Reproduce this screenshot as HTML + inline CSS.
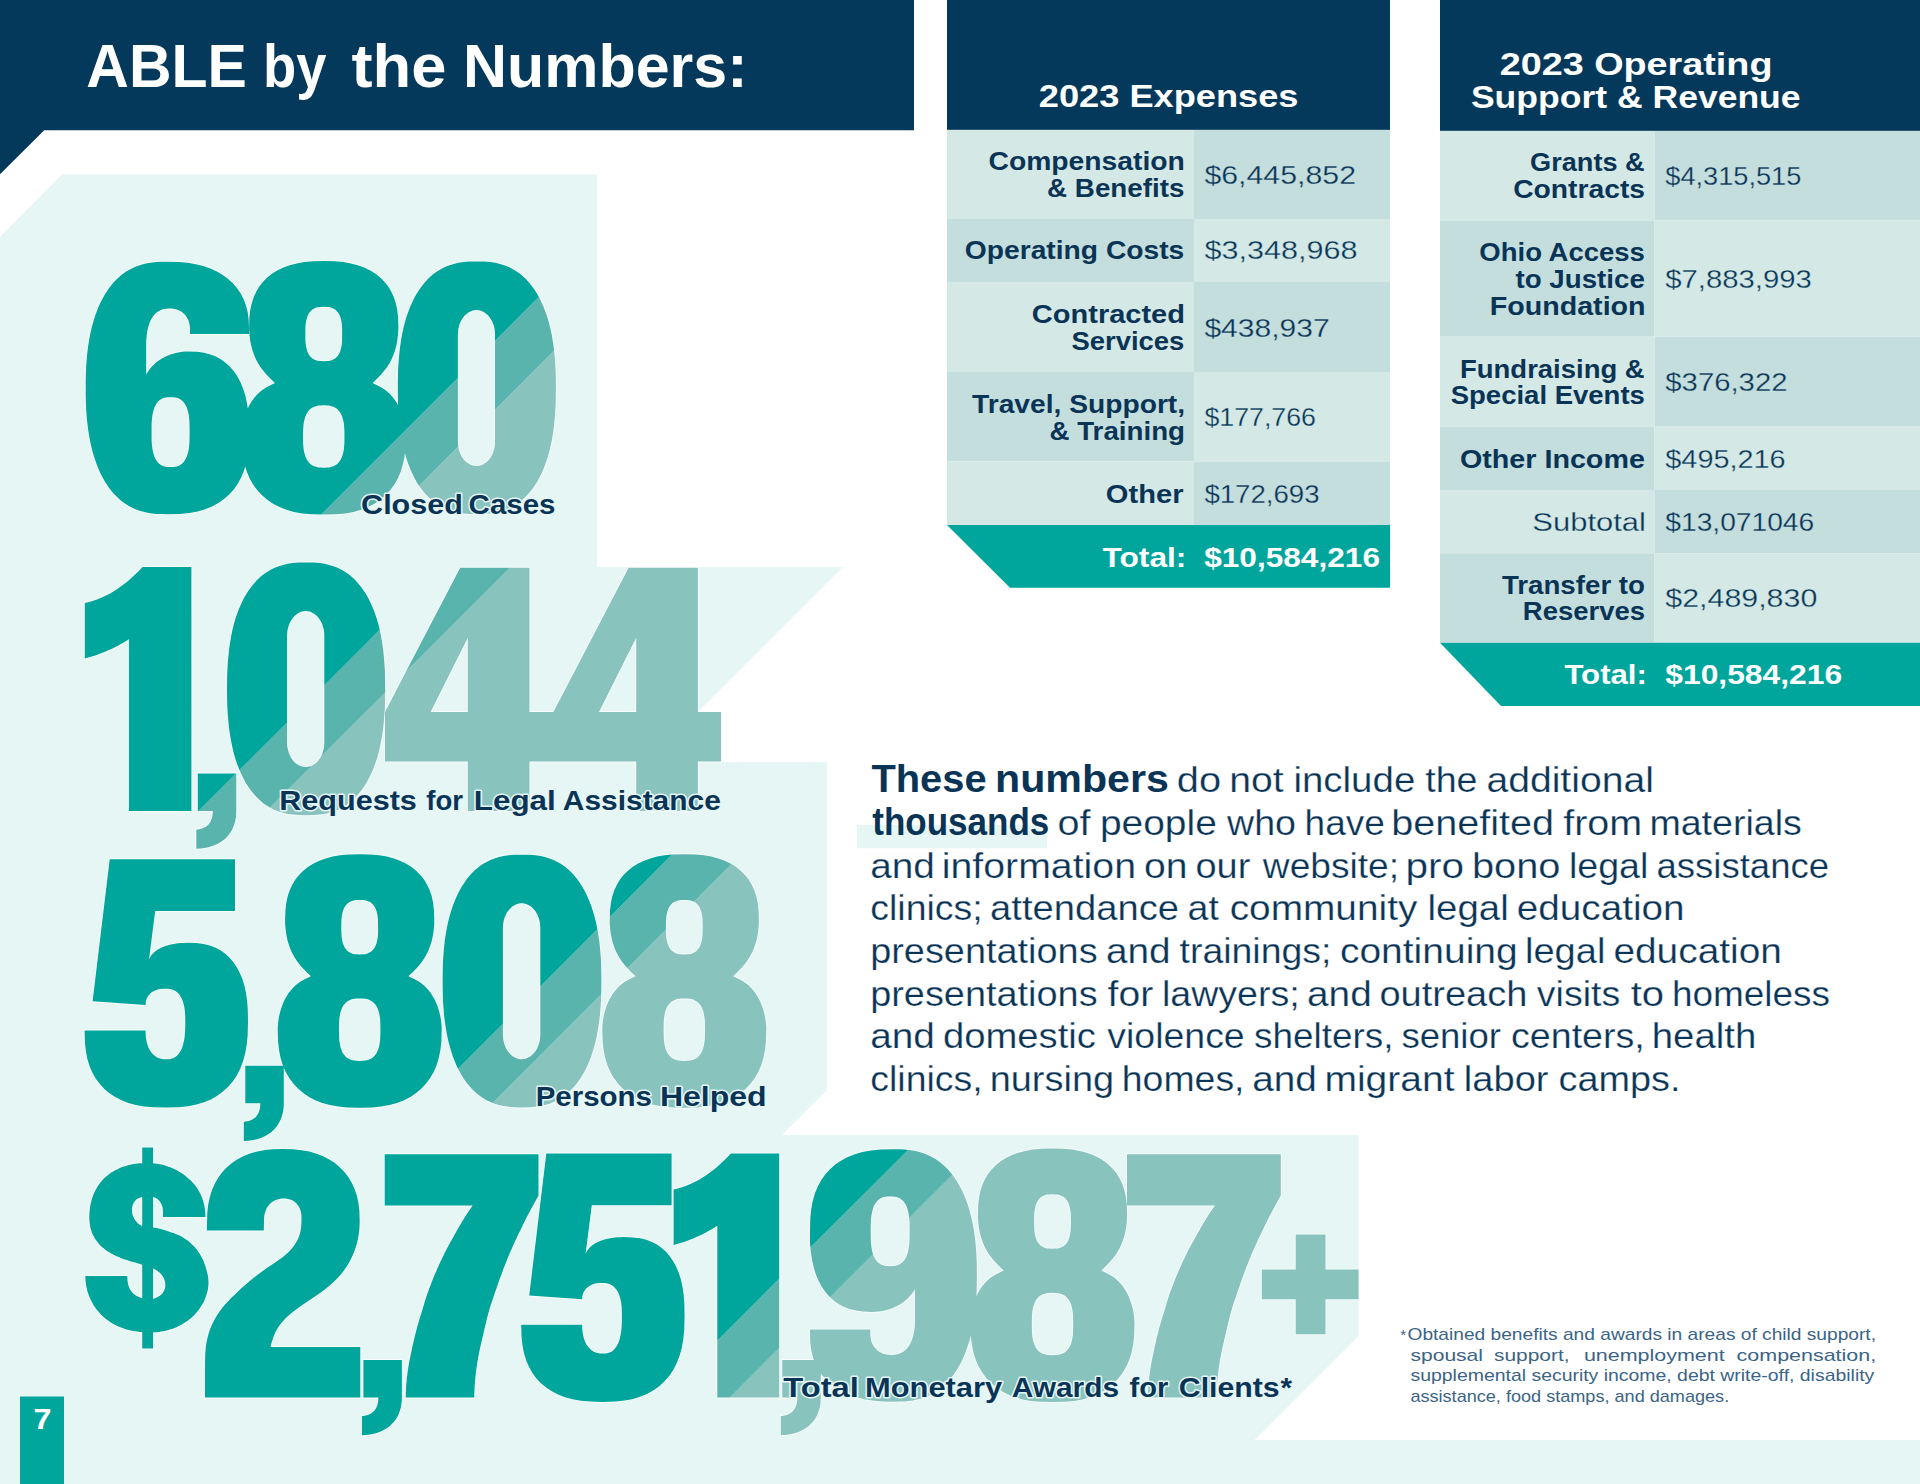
<!DOCTYPE html>
<html lang="en"><head><meta charset="utf-8"><title>ABLE by the Numbers</title>
<style>
html,body{margin:0;padding:0;background:#fff;}
body{width:1920px;height:1484px;overflow:hidden;font-family:"Liberation Sans",sans-serif;}
svg{display:block;font-family:"Liberation Sans",sans-serif;}
.halo{stroke:#E5F6F5;stroke-width:3px;stroke-linejoin:round;paint-order:stroke fill;}
</style></head><body>
<svg width="1920" height="1484" viewBox="0 0 1920 1484">
<defs>
</defs>
<rect width="1920" height="1484" fill="#fff"/>
<path fill="#E5F6F5" d="M62,174.6 L597,174.5 L597,567 L843,567 L698,712 L698,762 L827,762 L827,1090 L782,1135 L1358.5,1135 L1358.5,1336 L1254.5,1440 L1920,1440 L1920,1484 L0,1484 L0,236.9Z"/>
<rect x="857" y="825" width="190" height="23.3" fill="#E5F6F5"/>
<path fill="#04395B" d="M0,0 L914,0 L914,130.2 L44.2,130.2 L0,174.2Z"/>
<text y="86.8" font-size="61" fill="#fff"><tspan x="86.3" font-weight="700" textLength="160.6" lengthAdjust="spacingAndGlyphs">ABLE</tspan> <tspan x="263.1" font-weight="700" textLength="63.4" lengthAdjust="spacingAndGlyphs">by</tspan> <tspan x="351.4" font-weight="700" textLength="95.0" lengthAdjust="spacingAndGlyphs">the</tspan> <tspan x="463.1" font-weight="700" textLength="284.4" lengthAdjust="spacingAndGlyphs">Numbers:</tspan></text>
<rect x="947" y="0" width="443" height="130" fill="#04395B"/>
<rect x="947" y="129.8" width="247" height="89.19999999999999" fill="#D4E8E5"/><rect x="1194" y="129.8" width="196" height="89.19999999999999" fill="#C3DEDD"/>
<rect x="947" y="219" width="247" height="63" fill="#C3DEDD"/><rect x="1194" y="219" width="196" height="63" fill="#D4E8E5"/>
<rect x="947" y="282" width="247" height="90" fill="#D4E8E5"/><rect x="1194" y="282" width="196" height="90" fill="#C3DEDD"/>
<rect x="947" y="372" width="247" height="89.5" fill="#C3DEDD"/><rect x="1194" y="372" width="196" height="89.5" fill="#D4E8E5"/>
<rect x="947" y="461.5" width="247" height="63.5" fill="#D4E8E5"/><rect x="1194" y="461.5" width="196" height="63.5" fill="#C3DEDD"/>
<path fill="#00A69C" d="M947,525 L1390,525 L1390,587.8 L1010,587.8Z"/>
<text x="1038.8" y="107.1" font-size="32" font-weight="700" fill="#fff" textLength="259.7" lengthAdjust="spacingAndGlyphs">2023 Expenses</text>
<text x="988.5" y="170.3" font-size="25" font-weight="700" fill="#0A3456" textLength="196.4" lengthAdjust="spacingAndGlyphs">Compensation</text>
<text x="1047.1" y="197.1" font-size="25" font-weight="700" fill="#0A3456" textLength="137.3" lengthAdjust="spacingAndGlyphs">&amp; Benefits</text>
<text x="1204.4" y="183.7" font-size="26" fill="#0A3456" textLength="151.6" lengthAdjust="spacingAndGlyphs" stroke="#C3DEDD" stroke-width="0.3">$6,445,852</text>
<text x="964.8" y="259.4" font-size="25" font-weight="700" fill="#0A3456" textLength="219.5" lengthAdjust="spacingAndGlyphs">Operating Costs</text>
<text x="1204.4" y="259.4" font-size="26" fill="#0A3456" textLength="153.2" lengthAdjust="spacingAndGlyphs" stroke="#D4E8E5" stroke-width="0.3">$3,348,968</text>
<text x="1031.8" y="322.9" font-size="25" font-weight="700" fill="#0A3456" textLength="153.2" lengthAdjust="spacingAndGlyphs">Contracted</text>
<text x="1071.4" y="349.8" font-size="25" font-weight="700" fill="#0A3456" textLength="112.9" lengthAdjust="spacingAndGlyphs">Services</text>
<text x="1204.4" y="337.3" font-size="26" fill="#0A3456" textLength="125.2" lengthAdjust="spacingAndGlyphs" stroke="#C3DEDD" stroke-width="0.3">$438,937</text>
<text x="972.0" y="412.8" font-size="25" font-weight="700" fill="#0A3456" textLength="213.1" lengthAdjust="spacingAndGlyphs">Travel, Support,</text>
<text x="1049.5" y="439.6" font-size="25" font-weight="700" fill="#0A3456" textLength="135.5" lengthAdjust="spacingAndGlyphs">&amp; Training</text>
<text x="1204.4" y="426.4" font-size="26" fill="#0A3456" textLength="111.6" lengthAdjust="spacingAndGlyphs" stroke="#D4E8E5" stroke-width="0.3">$177,766</text>
<text x="1105.8" y="502.6" font-size="25" font-weight="700" fill="#0A3456" textLength="77.7" lengthAdjust="spacingAndGlyphs">Other</text>
<text x="1204.4" y="502.6" font-size="26" fill="#0A3456" textLength="115.2" lengthAdjust="spacingAndGlyphs" stroke="#C3DEDD" stroke-width="0.3">$172,693</text>
<text x="1102.6" y="567.3" font-size="28.5" font-weight="700" fill="#fff" textLength="83.7" lengthAdjust="spacingAndGlyphs">Total:</text>
<text x="1204.2" y="567.3" font-size="28.5" font-weight="700" fill="#fff" textLength="175.8" lengthAdjust="spacingAndGlyphs">$10,584,216</text>
<rect x="1440" y="0" width="480" height="131" fill="#04395B"/>
<rect x="1440" y="130.8" width="214.5" height="89.69999999999999" fill="#D4E8E5"/><rect x="1654.5" y="130.8" width="265.5" height="89.69999999999999" fill="#C3DEDD"/>
<rect x="1440" y="220.5" width="214.5" height="116.19999999999999" fill="#C3DEDD"/><rect x="1654.5" y="220.5" width="265.5" height="116.19999999999999" fill="#D4E8E5"/>
<rect x="1440" y="336.7" width="214.5" height="90.0" fill="#D4E8E5"/><rect x="1654.5" y="336.7" width="265.5" height="90.0" fill="#C3DEDD"/>
<rect x="1440" y="426.7" width="214.5" height="63.30000000000001" fill="#C3DEDD"/><rect x="1654.5" y="426.7" width="265.5" height="63.30000000000001" fill="#D4E8E5"/>
<rect x="1440" y="490" width="214.5" height="63.299999999999955" fill="#D4E8E5"/><rect x="1654.5" y="490" width="265.5" height="63.299999999999955" fill="#C3DEDD"/>
<rect x="1440" y="553.3" width="214.5" height="89.40000000000009" fill="#C3DEDD"/><rect x="1654.5" y="553.3" width="265.5" height="89.40000000000009" fill="#D4E8E5"/>
<path fill="#00A69C" d="M1440,642.7 L1920,642.7 L1920,706 L1501,706Z"/>
<text x="1499.7" y="74.7" font-size="32" font-weight="700" fill="#fff" textLength="272.8" lengthAdjust="spacingAndGlyphs">2023 Operating</text>
<text x="1470.9" y="108.0" font-size="32" font-weight="700" fill="#fff" textLength="329.7" lengthAdjust="spacingAndGlyphs">Support &amp; Revenue</text>
<text x="1530.1" y="171.4" font-size="25" font-weight="700" fill="#0A3456" textLength="114.6" lengthAdjust="spacingAndGlyphs">Grants &amp;</text>
<text x="1513.2" y="198.4" font-size="25" font-weight="700" fill="#0A3456" textLength="131.8" lengthAdjust="spacingAndGlyphs">Contracts</text>
<text x="1665.3" y="184.9" font-size="26" fill="#0A3456" textLength="136.0" lengthAdjust="spacingAndGlyphs" stroke="#C3DEDD" stroke-width="0.3">$4,315,515</text>
<text x="1479.3" y="260.6" font-size="25" font-weight="700" fill="#0A3456" textLength="165.6" lengthAdjust="spacingAndGlyphs">Ohio Access</text>
<text x="1515.5" y="287.7" font-size="25" font-weight="700" fill="#0A3456" textLength="129.3" lengthAdjust="spacingAndGlyphs">to Justice</text>
<text x="1489.7" y="314.6" font-size="25" font-weight="700" fill="#0A3456" textLength="155.9" lengthAdjust="spacingAndGlyphs">Foundation</text>
<text x="1665.3" y="287.7" font-size="26" fill="#0A3456" textLength="146.5" lengthAdjust="spacingAndGlyphs" stroke="#D4E8E5" stroke-width="0.3">$7,883,993</text>
<text x="1460.0" y="378.0" font-size="25" font-weight="700" fill="#0A3456" textLength="184.7" lengthAdjust="spacingAndGlyphs">Fundraising &amp;</text>
<text x="1450.7" y="404.1" font-size="25" font-weight="700" fill="#0A3456" textLength="194.2" lengthAdjust="spacingAndGlyphs">Special Events</text>
<text x="1665.3" y="391.4" font-size="26" fill="#0A3456" textLength="122.2" lengthAdjust="spacingAndGlyphs" stroke="#C3DEDD" stroke-width="0.3">$376,322</text>
<text x="1459.9" y="467.7" font-size="25" font-weight="700" fill="#0A3456" textLength="185.0" lengthAdjust="spacingAndGlyphs">Other Income</text>
<text x="1665.3" y="467.7" font-size="26" fill="#0A3456" textLength="120.3" lengthAdjust="spacingAndGlyphs" stroke="#D4E8E5" stroke-width="0.3">$495,216</text>
<text x="1532.3" y="530.8" font-size="26" fill="#0A3456" textLength="113.6" lengthAdjust="spacingAndGlyphs" stroke="#D4E8E5" stroke-width="0.3">Subtotal</text>
<text x="1665.3" y="530.8" font-size="26" fill="#0A3456" textLength="148.9" lengthAdjust="spacingAndGlyphs" stroke="#C3DEDD" stroke-width="0.3">$13,071046</text>
<text x="1501.9" y="594.4" font-size="25" font-weight="700" fill="#0A3456" textLength="143.1" lengthAdjust="spacingAndGlyphs">Transfer to</text>
<text x="1522.8" y="619.7" font-size="25" font-weight="700" fill="#0A3456" textLength="122.2" lengthAdjust="spacingAndGlyphs">Reserves</text>
<text x="1665.3" y="607.0" font-size="26" fill="#0A3456" textLength="152.0" lengthAdjust="spacingAndGlyphs" stroke="#D4E8E5" stroke-width="0.3">$2,489,830</text>
<text x="1564.4" y="684.4" font-size="28.5" font-weight="700" fill="#fff" textLength="82.5" lengthAdjust="spacingAndGlyphs">Total:</text>
<text x="1665.3" y="684.4" font-size="28.5" font-weight="700" fill="#fff" textLength="176.8" lengthAdjust="spacingAndGlyphs">$10,584,216</text>
<path fill="none" stroke="#fff" stroke-opacity=".7" stroke-width="1.8" stroke-linejoin="round" d="M555.6,369.4 555.1,361.8 554.5,354.7 553.8,347.9 552.8,341.3 551.8,335.1 550.5,329.1 549.1,323.3 547.5,317.8 545.7,312.5 543.8,307.5 541.7,302.7 539.5,298.1 537.1,293.8 534.5,289.7 531.8,285.9 529.0,282.4 525.9,279.1 522.7,276.1 519.4,273.3 515.9,270.9 512.2,268.7 508.3,266.8 504.2,265.2 499.9,263.9 495.3,262.8 490.3,262.1 484.7,261.6 476.8,261.5 469.0,261.6 463.4,262.1 458.4,262.8 453.8,263.9 449.5,265.2 445.4,266.8 441.5,268.7 437.8,270.9 434.3,273.3 431.0,276.1 427.8,279.1 424.7,282.4 421.9,285.9 419.2,289.7 416.6,293.8 414.2,298.1 412.0,302.7 409.9,307.5 408.0,312.5 406.2,317.8 404.6,323.3 403.2,329.1 401.9,335.1 400.9,341.3 399.9,347.9 399.2,354.7 398.6,361.8 398.1,369.4 397.9,377.6 397.8,387.9 397.9,398.1 398.1,405.3 397.5,404.2 396.7,402.7 395.8,401.3 394.8,399.9 393.8,398.6 392.8,397.3 391.7,396.0 390.6,394.7 389.4,393.5 388.2,392.4 386.9,391.3 385.6,390.3 384.3,389.3 382.9,388.4 381.5,387.5 380.0,386.7 378.6,385.9 377.1,385.2 375.6,384.5 374.1,383.7 372.6,383.0 373.7,381.9 374.9,380.8 376.0,379.7 377.2,378.6 378.3,377.5 379.4,376.3 380.5,375.2 381.6,374.0 382.6,372.8 383.6,371.6 384.6,370.3 385.6,369.0 386.6,367.7 387.5,366.4 388.3,365.1 389.2,363.7 390.0,362.3 390.7,360.9 391.5,359.5 392.1,358.1 392.8,356.6 393.4,355.1 393.9,353.6 394.5,352.1 395.0,350.6 395.4,349.0 395.8,347.5 396.2,345.9 396.6,344.4 396.9,342.8 397.2,341.2 397.4,339.6 397.6,338.0 397.8,336.4 398.0,334.9 398.1,333.3 398.2,331.7 398.3,330.1 398.4,328.5 398.4,326.9 398.1,317.0 397.2,309.5 395.7,302.9 393.7,296.8 391.1,291.3 387.9,286.1 384.2,281.5 380.0,277.3 375.2,273.5 369.9,270.3 364.1,267.5 357.8,265.2 350.9,263.4 343.4,262.1 335.0,261.3 323.8,261.1 312.5,261.3 304.1,262.1 296.6,263.4 289.7,265.2 283.4,267.5 277.6,270.3 272.3,273.5 267.5,277.3 263.3,281.5 259.6,286.1 256.4,291.3 253.8,296.8 251.8,302.9 250.3,309.5 249.4,317.0 249.1,326.9 249.1,328.5 249.2,330.1 249.3,331.7 249.4,333.3 249.5,334.9 249.7,336.4 249.9,338.0 250.1,339.6 250.3,341.2 250.6,342.8 250.9,344.4 251.3,345.9 251.7,347.5 252.1,349.0 252.5,350.6 253.0,352.1 253.6,353.6 254.1,355.1 254.7,356.6 255.4,358.1 256.0,359.5 256.8,360.9 257.5,362.3 258.3,363.7 259.2,365.1 260.0,366.4 260.9,367.7 261.9,369.0 262.9,370.3 263.9,371.6 264.9,372.8 265.9,374.0 267.0,375.2 268.1,376.3 269.2,377.5 270.3,378.6 271.5,379.7 272.6,380.8 273.8,381.9 274.9,383.0 273.4,383.7 271.9,384.5 270.4,385.2 268.9,385.9 267.5,386.7 266.0,387.5 264.6,388.4 263.2,389.3 261.9,390.3 260.6,391.3 259.3,392.4 258.1,393.5 256.9,394.7 255.8,396.0 254.7,397.3 253.7,398.6 252.7,399.9 251.7,401.3 250.8,402.7 250.0,404.2 249.2,405.6 248.4,407.1 247.8,408.5 247.0,403.3 245.4,395.8 243.2,388.9 240.7,382.6 237.6,376.8 234.1,371.6 230.2,366.9 225.9,362.9 221.2,359.4 216.0,356.6 210.3,354.4 204.2,352.8 197.3,351.8 188.1,351.5 185.2,351.6 182.4,351.8 179.5,352.2 176.8,352.7 174.0,353.4 171.3,354.2 168.6,355.2 166.1,356.3 163.6,357.6 161.1,358.9 158.8,360.5 156.6,362.1 154.5,363.9 152.6,365.7 150.8,367.8 149.1,369.9 147.6,372.1 146.2,374.5 146.2,346.0 146.3,340.6 146.6,336.4 147.1,332.6 147.7,329.2 148.5,326.0 149.5,323.0 150.7,320.3 152.0,317.9 153.5,315.7 155.2,313.8 157.0,312.2 159.0,310.9 161.1,309.9 163.5,309.1 166.1,308.7 169.4,308.5 171.9,308.6 174.1,308.9 176.1,309.3 178.0,310.0 179.8,310.8 181.5,311.8 183.0,313.0 184.4,314.3 185.7,315.8 186.8,317.4 187.8,319.1 188.6,321.0 189.2,323.0 189.6,325.1 189.9,327.4 190.0,330.0 190.0,334.0 249.0,334.0 249.0,329.0 249.0,328.0 249.0,328.0 248.7,319.7 247.7,312.3 246.0,305.5 243.7,299.3 240.7,293.5 237.1,288.2 232.9,283.3 228.1,278.9 222.8,274.9 216.9,271.5 210.4,268.5 203.4,266.1 195.8,264.2 187.7,262.8 178.7,262.0 167.4,261.7 167.4,261.7 167.4,261.7 167.3,261.7 167.3,261.7 167.3,261.7 160.9,261.8 156.3,262.0 152.1,262.4 148.3,263.0 144.7,263.8 141.3,264.7 138.0,265.7 134.8,267.0 131.8,268.4 128.9,269.9 126.1,271.6 123.4,273.5 120.8,275.5 118.3,277.7 115.9,280.1 113.5,282.5 111.3,285.2 109.1,288.0 107.1,290.9 105.1,293.9 103.3,297.2 101.5,300.5 99.8,304.0 98.2,307.6 96.7,311.4 95.3,315.3 94.0,319.3 92.8,323.5 91.6,327.8 90.6,332.2 89.7,336.8 88.9,341.5 88.1,346.3 87.5,351.3 86.9,356.5 86.5,361.9 86.1,367.5 85.9,373.5 85.7,379.9 85.7,388.0 85.7,396.0 85.9,402.4 86.1,408.4 86.5,414.0 86.9,419.4 87.5,424.6 88.1,429.6 88.9,434.4 89.7,439.1 90.6,443.7 91.6,448.1 92.8,452.4 94.0,456.6 95.3,460.6 96.7,464.5 98.2,468.3 99.8,471.9 101.5,475.4 103.3,478.7 105.1,482.0 107.1,485.0 109.1,487.9 111.3,490.7 113.5,493.4 115.9,495.8 118.3,498.2 120.8,500.4 123.4,502.4 126.1,504.3 128.9,506.0 131.8,507.5 134.8,508.9 138.0,510.2 141.3,511.2 144.7,512.1 148.3,512.9 152.1,513.5 156.3,513.9 160.9,514.1 167.4,514.2 167.4,514.2 167.4,514.2 167.4,514.2 167.4,514.2 167.4,514.2 180.1,513.9 189.4,512.9 197.7,511.4 205.2,509.2 212.1,506.4 218.4,503.0 224.1,499.1 229.2,494.5 233.8,489.4 237.8,483.7 241.2,477.4 244.0,470.6 245.2,466.5 246.9,472.0 249.8,478.7 253.2,484.8 257.3,490.3 262.0,495.3 267.2,499.8 273.0,503.7 279.4,507.0 286.3,509.7 293.9,511.9 302.2,513.4 311.4,514.3 323.8,514.6 336.1,514.3 345.3,513.4 353.6,511.9 361.2,509.7 368.1,507.0 374.5,503.7 380.3,499.8 385.5,495.3 390.2,490.3 394.3,484.8 397.7,478.7 400.6,472.0 402.8,464.8 404.5,456.9 404.9,453.1 406.2,457.9 408.0,463.2 409.9,468.2 412.0,473.0 414.2,477.6 416.6,481.9 419.2,486.0 421.9,489.8 424.7,493.3 427.8,496.6 431.0,499.6 434.3,502.4 437.8,504.8 441.5,507.0 445.4,508.9 449.5,510.5 453.8,511.8 458.4,512.9 463.4,513.6 469.0,514.1 476.9,514.2 484.7,514.1 490.3,513.6 495.3,512.9 499.9,511.8 504.2,510.5 508.3,508.9 512.2,507.0 515.9,504.8 519.4,502.4 522.7,499.6 525.9,496.6 529.0,493.3 531.8,489.8 534.5,486.0 537.1,481.9 539.5,477.6 541.7,473.0 543.8,468.2 545.7,463.2 547.5,457.9 549.1,452.4 550.5,446.6 551.8,440.6 552.8,434.4 553.8,427.8 554.5,421.0 555.1,413.9 555.6,406.3 555.8,398.1 555.9,387.9 555.8,377.6ZM495.0,443.4 494.8,445.4 494.5,447.3 494.1,449.2 493.6,451.1 492.9,452.9 492.2,454.6 491.3,456.2 490.4,457.7 489.3,459.2 488.2,460.5 487.0,461.7 485.7,462.7 484.4,463.6 483.0,464.4 481.6,465.0 480.2,465.5 478.7,465.8 477.2,466.0 475.7,466.0 474.2,465.8 472.7,465.5 471.3,465.0 469.9,464.4 468.5,463.6 467.2,462.7 465.9,461.7 464.7,460.5 463.6,459.2 462.5,457.7 461.6,456.2 460.7,454.6 460.0,452.9 459.3,451.1 458.8,449.2 458.4,447.3 458.1,445.4 457.9,443.4 457.9,441.5 457.9,334.6 457.9,332.7 458.1,330.7 458.4,328.8 458.8,326.9 459.3,325.0 460.0,323.2 460.7,321.5 461.6,319.9 462.5,318.4 463.6,316.9 464.7,315.6 465.9,314.4 467.2,313.4 468.5,312.5 469.9,311.7 471.3,311.1 472.7,310.6 474.2,310.3 475.7,310.1 477.2,310.1 478.7,310.3 480.2,310.6 481.6,311.1 483.0,311.7 484.4,312.5 485.7,313.4 487.0,314.4 488.2,315.6 489.3,316.9 490.4,318.4 491.3,319.9 492.2,321.5 492.9,323.2 493.6,325.0 494.1,326.9 494.5,328.8 494.8,330.7 495.0,332.7 495.0,334.6 495.0,441.5ZM344.0,447.9 343.7,450.4 343.2,452.6 342.7,454.6 342.1,456.4 341.4,458.1 340.6,459.7 339.7,461.1 338.8,462.3 337.7,463.5 336.5,464.5 335.3,465.3 333.9,466.0 332.4,466.6 330.8,467.1 329.0,467.4 326.9,467.6 323.8,467.7 320.6,467.6 318.5,467.4 316.7,467.1 315.1,466.6 313.6,466.0 312.2,465.3 311.0,464.5 309.8,463.5 308.7,462.3 307.8,461.1 306.9,459.7 306.1,458.1 305.4,456.4 304.8,454.6 304.3,452.6 303.8,450.4 303.5,447.9 303.3,445.2 303.1,441.9 303.1,436.5 303.1,431.1 303.3,427.8 303.5,425.1 303.8,422.6 304.3,420.4 304.8,418.4 305.4,416.6 306.1,414.9 306.9,413.3 307.8,411.9 308.7,410.7 309.8,409.5 311.0,408.5 312.2,407.7 313.6,407.0 315.1,406.4 316.7,405.9 318.5,405.6 320.6,405.4 323.7,405.3 326.9,405.4 329.0,405.6 330.8,405.9 332.4,406.4 333.9,407.0 335.3,407.7 336.5,408.5 337.7,409.5 338.8,410.7 339.7,411.9 340.6,413.3 341.4,414.9 342.1,416.6 342.7,418.4 343.2,420.4 343.7,422.6 344.0,425.1 344.2,427.8 344.4,431.1 344.4,436.5 344.4,441.9 344.2,445.2ZM341.5,346.1 341.1,348.0 340.6,349.8 340.1,351.4 339.5,352.9 338.8,354.2 338.0,355.4 337.1,356.5 336.2,357.5 335.1,358.4 334.0,359.1 332.8,359.8 331.5,360.3 330.0,360.7 328.4,361.0 326.5,361.1 323.8,361.2 321.0,361.1 319.1,361.0 317.5,360.7 316.0,360.3 314.7,359.8 313.5,359.1 312.4,358.4 311.3,357.5 310.4,356.5 309.5,355.4 308.7,354.2 308.0,352.9 307.4,351.4 306.9,349.8 306.4,348.0 306.0,346.1 305.7,344.0 305.5,341.6 305.4,338.7 305.4,334.0 305.4,329.3 305.5,326.4 305.7,324.0 306.0,321.9 306.4,320.0 306.9,318.2 307.4,316.6 308.0,315.1 308.7,313.8 309.5,312.6 310.4,311.5 311.3,310.5 312.4,309.6 313.5,308.9 314.7,308.2 316.0,307.7 317.5,307.3 319.1,307.0 321.0,306.9 323.7,306.8 326.5,306.9 328.4,307.0 330.0,307.3 331.5,307.7 332.8,308.2 334.0,308.9 335.1,309.6 336.2,310.5 337.1,311.5 338.0,312.6 338.8,313.8 339.5,315.1 340.1,316.6 340.6,318.2 341.1,320.0 341.5,321.9 341.8,324.0 342.0,326.4 342.1,329.3 342.1,334.0 342.1,338.7 342.0,341.6 341.8,344.0ZM189.2,445.3 188.9,448.1 188.5,450.5 188.0,452.7 187.4,454.7 186.7,456.6 186.0,458.3 185.1,459.8 184.2,461.2 183.2,462.4 182.1,463.5 180.9,464.4 179.7,465.2 178.3,465.9 176.8,466.4 175.1,466.7 173.3,466.9 170.6,467.0 167.9,466.9 166.0,466.7 164.4,466.4 162.9,465.9 161.5,465.2 160.2,464.4 159.0,463.5 157.9,462.4 156.9,461.2 156.0,459.8 155.2,458.3 154.4,456.6 153.8,454.7 153.2,452.7 152.7,450.5 152.3,448.1 152.0,445.3 151.7,442.2 151.6,438.5 151.6,432.1 151.6,425.7 151.7,422.0 152.0,418.9 152.3,416.1 152.7,413.7 153.2,411.5 153.8,409.5 154.4,407.6 155.2,405.9 156.0,404.4 156.9,403.0 157.9,401.8 159.0,400.7 160.2,399.8 161.5,399.0 162.9,398.3 164.4,397.8 166.0,397.5 167.9,397.3 170.6,397.2 173.3,397.3 175.1,397.5 176.8,397.8 178.3,398.3 179.7,399.0 180.9,399.8 182.1,400.7 183.2,401.8 184.2,403.0 185.1,404.4 186.0,405.9 186.7,407.6 187.4,409.5 188.0,411.5 188.5,413.7 188.9,416.1 189.2,418.9 189.4,422.0 189.5,425.7 189.6,432.1 189.5,438.5 189.4,442.2Z"/>
<path fill="#88C3BE" fill-rule="evenodd" d="M555.1,361.8 554.5,354.7 554.1,350.6 495.0,409.7 495.0,441.5 495.0,443.4 494.8,445.4 494.5,447.3 494.1,449.2 493.6,451.1 492.9,452.9 492.2,454.6 491.3,456.2 490.4,457.7 489.3,459.2 488.2,460.5 487.0,461.7 485.7,462.7 484.4,463.6 483.0,464.4 481.6,465.0 480.2,465.5 478.7,465.8 477.2,466.0 475.7,466.0 474.2,465.8 472.7,465.5 471.3,465.0 469.9,464.4 468.5,463.6 467.2,462.7 465.9,461.7 464.7,460.5 463.6,459.2 462.5,457.7 461.6,456.2 460.7,454.6 460.0,452.9 459.3,451.1 458.8,449.2 458.4,447.3 458.3,446.4 419.0,485.7 419.2,486.0 421.9,489.8 424.7,493.3 427.8,496.6 431.0,499.6 434.3,502.4 437.8,504.8 441.5,507.0 445.4,508.9 449.5,510.5 453.8,511.8 458.4,512.9 463.4,513.6 469.0,514.1 476.9,514.2 484.7,514.1 490.3,513.6 495.3,512.9 499.9,511.8 504.2,510.5 508.3,508.9 512.2,507.0 515.9,504.8 519.4,502.4 522.7,499.6 525.9,496.6 529.0,493.3 531.8,489.8 534.5,486.0 537.1,481.9 539.5,477.6 541.7,473.0 543.8,468.2 545.7,463.2 547.5,457.9 549.1,452.4 550.5,446.6 551.8,440.6 552.8,434.4 553.8,427.8 554.5,421.0 555.1,413.9 555.6,406.3 555.8,398.1 555.9,387.9 555.8,377.6 555.6,369.4Z"/>
<path fill="#5AB4AE" fill-rule="evenodd" d="M553.8,347.9 552.8,341.3 551.8,335.1 550.5,329.1 549.1,323.3 547.5,317.8 545.7,312.5 543.8,307.5 541.7,302.7 539.5,298.1 538.8,297.0 495.0,340.8 495.0,409.7 554.1,350.6ZM323.8,514.6 336.1,514.3 345.3,513.4 353.6,511.9 361.2,509.7 368.1,507.0 374.5,503.7 380.3,499.8 385.5,495.3 390.2,490.3 394.3,484.8 397.7,478.7 400.6,472.0 402.8,464.8 404.5,456.9 404.9,453.1 406.2,457.9 408.0,463.2 409.9,468.2 412.0,473.0 414.2,477.6 416.6,481.9 419.0,485.7 458.3,446.4 458.1,445.4 457.9,443.4 457.9,441.5 457.9,377.9 321.2,514.6Z"/>
<path fill="#00A69C" fill-rule="evenodd" d="M537.1,293.8 534.5,289.7 531.8,285.9 529.0,282.4 525.9,279.1 522.7,276.1 519.4,273.3 515.9,270.9 512.2,268.7 508.3,266.8 504.2,265.2 499.9,263.9 495.3,262.8 490.3,262.1 484.7,261.6 476.8,261.5 469.0,261.6 463.4,262.1 458.4,262.8 453.8,263.9 449.5,265.2 445.4,266.8 441.5,268.7 437.8,270.9 434.3,273.3 431.0,276.1 427.8,279.1 424.7,282.4 421.9,285.9 419.2,289.7 416.6,293.8 414.2,298.1 412.0,302.7 409.9,307.5 408.0,312.5 406.2,317.8 404.6,323.3 403.2,329.1 401.9,335.1 400.9,341.3 399.9,347.9 399.2,354.7 398.6,361.8 398.1,369.4 397.9,377.6 397.8,387.9 397.9,398.1 398.1,405.3 397.5,404.2 396.7,402.7 395.8,401.3 394.8,399.9 393.8,398.6 392.8,397.3 391.7,396.0 390.6,394.7 389.4,393.5 388.2,392.4 386.9,391.3 385.6,390.3 384.3,389.3 382.9,388.4 381.5,387.5 380.0,386.7 378.6,385.9 377.1,385.2 375.6,384.5 374.1,383.7 372.6,383.0 373.7,381.9 374.9,380.8 376.0,379.7 377.2,378.6 378.3,377.5 379.4,376.3 380.5,375.2 381.6,374.0 382.6,372.8 383.6,371.6 384.6,370.3 385.6,369.0 386.6,367.7 387.5,366.4 388.3,365.1 389.2,363.7 390.0,362.3 390.7,360.9 391.5,359.5 392.1,358.1 392.8,356.6 393.4,355.1 393.9,353.6 394.5,352.1 395.0,350.6 395.4,349.0 395.8,347.5 396.2,345.9 396.6,344.4 396.9,342.8 397.2,341.2 397.4,339.6 397.6,338.0 397.8,336.4 398.0,334.9 398.1,333.3 398.2,331.7 398.3,330.1 398.4,328.5 398.4,326.9 398.1,317.0 397.2,309.5 395.7,302.9 393.7,296.8 391.1,291.3 387.9,286.1 384.2,281.5 380.0,277.3 375.2,273.5 369.9,270.3 364.1,267.5 357.8,265.2 350.9,263.4 343.4,262.1 335.0,261.3 323.8,261.1 312.5,261.3 304.1,262.1 296.6,263.4 289.7,265.2 283.4,267.5 277.6,270.3 272.3,273.5 267.5,277.3 263.3,281.5 259.6,286.1 256.4,291.3 253.8,296.8 251.8,302.9 250.3,309.5 249.4,317.0 249.1,326.9 249.1,328.5 249.2,330.1 249.3,331.7 249.4,333.3 249.5,334.9 249.7,336.4 249.9,338.0 250.1,339.6 250.3,341.2 250.6,342.8 250.9,344.4 251.3,345.9 251.7,347.5 252.1,349.0 252.5,350.6 253.0,352.1 253.6,353.6 254.1,355.1 254.7,356.6 255.4,358.1 256.0,359.5 256.8,360.9 257.5,362.3 258.3,363.7 259.2,365.1 260.0,366.4 260.9,367.7 261.9,369.0 262.9,370.3 263.9,371.6 264.9,372.8 265.9,374.0 267.0,375.2 268.1,376.3 269.2,377.5 270.3,378.6 271.5,379.7 272.6,380.8 273.8,381.9 274.9,383.0 273.4,383.7 271.9,384.5 270.4,385.2 268.9,385.9 267.5,386.7 266.0,387.5 264.6,388.4 263.2,389.3 261.9,390.3 260.6,391.3 259.3,392.4 258.1,393.5 256.9,394.7 255.8,396.0 254.7,397.3 253.7,398.6 252.7,399.9 251.7,401.3 250.8,402.7 250.0,404.2 249.2,405.6 248.4,407.1 247.8,408.5 247.0,403.3 245.4,395.8 243.2,388.9 240.7,382.6 237.6,376.8 234.1,371.6 230.2,366.9 225.9,362.9 221.2,359.4 216.0,356.6 210.3,354.4 204.2,352.8 197.3,351.8 188.1,351.5 185.2,351.6 182.4,351.8 179.5,352.2 176.8,352.7 174.0,353.4 171.3,354.2 168.6,355.2 166.1,356.3 163.6,357.6 161.1,358.9 158.8,360.5 156.6,362.1 154.5,363.9 152.6,365.7 150.8,367.8 149.1,369.9 147.6,372.1 146.2,374.5 146.2,346.0 146.3,340.6 146.6,336.4 147.1,332.6 147.7,329.2 148.5,326.0 149.5,323.0 150.7,320.3 152.0,317.9 153.5,315.7 155.2,313.8 157.0,312.2 159.0,310.9 161.1,309.9 163.5,309.1 166.1,308.7 169.4,308.5 171.9,308.6 174.1,308.9 176.1,309.3 178.0,310.0 179.8,310.8 181.5,311.8 183.0,313.0 184.4,314.3 185.7,315.8 186.8,317.4 187.8,319.1 188.6,321.0 189.2,323.0 189.6,325.1 189.9,327.4 190.0,330.0 190.0,334.0 249.0,334.0 249.0,329.0 249.0,328.0 249.0,328.0 248.7,319.7 247.7,312.3 246.0,305.5 243.7,299.3 240.7,293.5 237.1,288.2 232.9,283.3 228.1,278.9 222.8,274.9 216.9,271.5 210.4,268.5 203.4,266.1 195.8,264.2 187.7,262.8 178.7,262.0 167.4,261.7 167.4,261.7 167.4,261.7 167.3,261.7 167.3,261.7 167.3,261.7 160.9,261.8 156.3,262.0 152.1,262.4 148.3,263.0 144.7,263.8 141.3,264.7 138.0,265.7 134.8,267.0 131.8,268.4 128.9,269.9 126.1,271.6 123.4,273.5 120.8,275.5 118.3,277.7 115.9,280.1 113.5,282.5 111.3,285.2 109.1,288.0 107.1,290.9 105.1,293.9 103.3,297.2 101.5,300.5 99.8,304.0 98.2,307.6 96.7,311.4 95.3,315.3 94.0,319.3 92.8,323.5 91.6,327.8 90.6,332.2 89.7,336.8 88.9,341.5 88.1,346.3 87.5,351.3 86.9,356.5 86.5,361.9 86.1,367.5 85.9,373.5 85.7,379.9 85.7,388.0 85.7,396.0 85.9,402.4 86.1,408.4 86.5,414.0 86.9,419.4 87.5,424.6 88.1,429.6 88.9,434.4 89.7,439.1 90.6,443.7 91.6,448.1 92.8,452.4 94.0,456.6 95.3,460.6 96.7,464.5 98.2,468.3 99.8,471.9 101.5,475.4 103.3,478.7 105.1,482.0 107.1,485.0 109.1,487.9 111.3,490.7 113.5,493.4 115.9,495.8 118.3,498.2 120.8,500.4 123.4,502.4 126.1,504.3 128.9,506.0 131.8,507.5 134.8,508.9 138.0,510.2 141.3,511.2 144.7,512.1 148.3,512.9 152.1,513.5 156.3,513.9 160.9,514.1 167.4,514.2 167.4,514.2 167.4,514.2 167.4,514.2 167.4,514.2 167.4,514.2 180.1,513.9 189.4,512.9 197.7,511.4 205.2,509.2 212.1,506.4 218.4,503.0 224.1,499.1 229.2,494.5 233.8,489.4 237.8,483.7 241.2,477.4 244.0,470.6 245.2,466.5 246.9,472.0 249.8,478.7 253.2,484.8 257.3,490.3 262.0,495.3 267.2,499.8 273.0,503.7 279.4,507.0 286.3,509.7 293.9,511.9 302.2,513.4 311.4,514.3 321.2,514.6 457.9,377.9 457.9,334.6 457.9,332.7 458.1,330.7 458.4,328.8 458.8,326.9 459.3,325.0 460.0,323.2 460.7,321.5 461.6,319.9 462.5,318.4 463.6,316.9 464.7,315.6 465.9,314.4 467.2,313.4 468.5,312.5 469.9,311.7 471.3,311.1 472.7,310.6 474.2,310.3 475.7,310.1 477.2,310.1 478.7,310.3 480.2,310.6 481.6,311.1 483.0,311.7 484.4,312.5 485.7,313.4 487.0,314.4 488.2,315.6 489.3,316.9 490.4,318.4 491.3,319.9 492.2,321.5 492.9,323.2 493.6,325.0 494.1,326.9 494.5,328.8 494.8,330.7 495.0,332.7 495.0,334.6 495.0,340.8 538.8,297.0ZM343.7,450.4 343.2,452.6 342.7,454.6 342.1,456.4 341.4,458.1 340.6,459.7 339.7,461.1 338.8,462.3 337.7,463.5 336.5,464.5 335.3,465.3 333.9,466.0 332.4,466.6 330.8,467.1 329.0,467.4 326.9,467.6 323.8,467.7 320.6,467.6 318.5,467.4 316.7,467.1 315.1,466.6 313.6,466.0 312.2,465.3 311.0,464.5 309.8,463.5 308.7,462.3 307.8,461.1 306.9,459.7 306.1,458.1 305.4,456.4 304.8,454.6 304.3,452.6 303.8,450.4 303.5,447.9 303.3,445.2 303.1,441.9 303.1,436.5 303.1,431.1 303.3,427.8 303.5,425.1 303.8,422.6 304.3,420.4 304.8,418.4 305.4,416.6 306.1,414.9 306.9,413.3 307.8,411.9 308.7,410.7 309.8,409.5 311.0,408.5 312.2,407.7 313.6,407.0 315.1,406.4 316.7,405.9 318.5,405.6 320.6,405.4 323.7,405.3 326.9,405.4 329.0,405.6 330.8,405.9 332.4,406.4 333.9,407.0 335.3,407.7 336.5,408.5 337.7,409.5 338.8,410.7 339.7,411.9 340.6,413.3 341.4,414.9 342.1,416.6 342.7,418.4 343.2,420.4 343.7,422.6 344.0,425.1 344.2,427.8 344.4,431.1 344.4,436.5 344.4,441.9 344.2,445.2 344.0,447.9ZM341.1,348.0 340.6,349.8 340.1,351.4 339.5,352.9 338.8,354.2 338.0,355.4 337.1,356.5 336.2,357.5 335.1,358.4 334.0,359.1 332.8,359.8 331.5,360.3 330.0,360.7 328.4,361.0 326.5,361.1 323.8,361.2 321.0,361.1 319.1,361.0 317.5,360.7 316.0,360.3 314.7,359.8 313.5,359.1 312.4,358.4 311.3,357.5 310.4,356.5 309.5,355.4 308.7,354.2 308.0,352.9 307.4,351.4 306.9,349.8 306.4,348.0 306.0,346.1 305.7,344.0 305.5,341.6 305.4,338.7 305.4,334.0 305.4,329.3 305.5,326.4 305.7,324.0 306.0,321.9 306.4,320.0 306.9,318.2 307.4,316.6 308.0,315.1 308.7,313.8 309.5,312.6 310.4,311.5 311.3,310.5 312.4,309.6 313.5,308.9 314.7,308.2 316.0,307.7 317.5,307.3 319.1,307.0 321.0,306.9 323.7,306.8 326.5,306.9 328.4,307.0 330.0,307.3 331.5,307.7 332.8,308.2 334.0,308.9 335.1,309.6 336.2,310.5 337.1,311.5 338.0,312.6 338.8,313.8 339.5,315.1 340.1,316.6 340.6,318.2 341.1,320.0 341.5,321.9 341.8,324.0 342.0,326.4 342.1,329.3 342.1,334.0 342.1,338.7 342.0,341.6 341.8,344.0 341.5,346.1ZM188.9,448.1 188.5,450.5 188.0,452.7 187.4,454.7 186.7,456.6 186.0,458.3 185.1,459.8 184.2,461.2 183.2,462.4 182.1,463.5 180.9,464.4 179.7,465.2 178.3,465.9 176.8,466.4 175.1,466.7 173.3,466.9 170.6,467.0 167.9,466.9 166.0,466.7 164.4,466.4 162.9,465.9 161.5,465.2 160.2,464.4 159.0,463.5 157.9,462.4 156.9,461.2 156.0,459.8 155.2,458.3 154.4,456.6 153.8,454.7 153.2,452.7 152.7,450.5 152.3,448.1 152.0,445.3 151.7,442.2 151.6,438.5 151.6,432.1 151.6,425.7 151.7,422.0 152.0,418.9 152.3,416.1 152.7,413.7 153.2,411.5 153.8,409.5 154.4,407.6 155.2,405.9 156.0,404.4 156.9,403.0 157.9,401.8 159.0,400.7 160.2,399.8 161.5,399.0 162.9,398.3 164.4,397.8 166.0,397.5 167.9,397.3 170.6,397.2 173.3,397.3 175.1,397.5 176.8,397.8 178.3,398.3 179.7,399.0 180.9,399.8 182.1,400.7 183.2,401.8 184.2,403.0 185.1,404.4 186.0,405.9 186.7,407.6 187.4,409.5 188.0,411.5 188.5,413.7 188.9,416.1 189.2,418.9 189.4,422.0 189.5,425.7 189.6,432.1 189.5,438.5 189.4,442.2 189.2,445.3Z"/>
<path fill="none" stroke="#fff" stroke-opacity=".7" stroke-width="1.8" stroke-linejoin="round" d="M467.8,811.0 529.5,811.0 529.5,761.6 551.0,761.6 552.7,761.6 553.4,761.6 555.0,761.6 636.2,761.6 636.2,811.0 697.9,811.0 697.9,761.6 721.1,761.6 721.1,711.9 697.9,711.9 697.9,567.7 628.6,567.7 553.4,711.9 552.7,711.9 551.0,711.9 529.5,711.9 529.5,567.7 460.2,567.7 385.0,711.9 385.0,761.6 467.8,761.6ZM636.2,637.7 636.2,711.9 599.0,711.9ZM467.8,711.9 430.6,711.9 467.8,637.7ZM384.4,662.8 383.8,655.7 383.1,648.9 382.1,642.3 381.0,636.1 379.8,630.1 378.4,624.3 376.8,618.8 375.0,613.5 373.1,608.5 371.0,603.7 368.8,599.1 366.4,594.8 363.8,590.7 361.1,586.9 358.2,583.4 355.2,580.1 352.0,577.1 348.7,574.3 345.2,571.9 341.5,569.7 337.6,567.8 333.5,566.2 329.2,564.9 324.6,563.8 319.6,563.1 313.9,562.6 306.1,562.5 298.3,562.6 292.6,563.1 287.6,563.8 283.0,564.9 278.7,566.2 274.6,567.8 270.7,569.7 267.0,571.9 263.5,574.3 260.2,577.1 257.0,580.1 254.0,583.4 251.1,586.9 248.4,590.7 245.8,594.8 243.4,599.1 241.2,603.7 239.1,608.5 237.2,613.5 235.4,618.8 233.8,624.3 232.4,630.1 231.2,636.1 230.1,642.3 229.1,648.9 228.4,655.7 227.8,662.8 227.3,670.4 227.1,678.6 227.0,688.9 227.1,699.1 227.3,707.3 227.8,714.9 228.4,722.0 229.1,728.8 230.1,735.4 231.2,741.6 232.4,747.6 233.8,753.4 235.4,758.9 237.2,764.2 239.1,769.2 241.2,774.0 243.4,778.6 245.8,782.9 248.4,787.0 251.1,790.8 254.0,794.3 257.0,797.6 260.2,800.6 263.5,803.4 267.0,805.8 270.7,808.0 274.6,809.9 278.7,811.5 283.0,812.8 287.6,813.9 292.6,814.6 298.3,815.1 306.1,815.2 313.9,815.1 319.6,814.6 324.6,813.9 329.2,812.8 333.5,811.5 337.6,809.9 341.5,808.0 345.2,805.8 348.7,803.4 352.0,800.6 355.2,797.6 358.2,794.3 361.1,790.8 363.8,787.0 366.4,782.9 368.8,778.6 371.0,774.0 373.1,769.2 375.0,764.2 376.8,758.9 378.4,753.4 379.8,747.6 381.0,741.6 382.1,735.4 383.1,728.8 383.8,722.0 384.4,714.9 384.9,707.3 385.1,699.1 385.2,688.9 385.1,678.6 384.9,670.4ZM324.1,746.4 323.8,748.3 323.3,750.2 322.8,752.1 322.2,753.9 321.4,755.6 320.6,757.2 319.6,758.7 318.6,760.2 317.5,761.5 316.3,762.7 315.0,763.7 313.7,764.6 312.3,765.4 310.9,766.0 309.4,766.5 307.9,766.8 306.4,767.0 305.0,767.0 303.5,766.8 302.0,766.5 300.5,766.0 299.1,765.4 297.7,764.6 296.4,763.7 295.1,762.7 293.9,761.5 292.8,760.2 291.8,758.7 290.8,757.2 290.0,755.6 289.2,753.9 288.6,752.1 288.1,750.2 287.6,748.3 287.3,746.4 287.2,744.4 287.1,742.4 287.1,635.7 287.2,633.7 287.3,631.7 287.6,629.8 288.1,627.9 288.6,626.0 289.2,624.2 290.0,622.5 290.8,620.9 291.8,619.4 292.8,617.9 293.9,616.6 295.1,615.4 296.4,614.4 297.7,613.5 299.1,612.7 300.5,612.1 302.0,611.6 303.5,611.3 305.0,611.1 306.4,611.1 307.9,611.3 309.4,611.6 310.9,612.1 312.3,612.7 313.7,613.5 315.0,614.4 316.3,615.4 317.5,616.6 318.6,617.9 319.6,619.4 320.6,620.9 321.4,622.5 322.2,624.2 322.8,626.0 323.3,627.9 323.8,629.8 324.1,631.7 324.2,633.7 324.3,635.7 324.3,742.4 324.2,744.4ZM212.7,812.8 212.6,814.5 212.3,816.2 212.0,817.7 211.5,819.2 211.0,820.6 210.3,821.9 209.5,823.1 208.7,824.2 207.7,825.2 206.6,826.1 205.5,826.9 204.2,827.6 202.8,828.2 201.3,828.7 199.8,829.1 198.1,829.4 196.3,829.5 196.3,848.8 200.5,848.5 204.5,848.0 208.3,847.2 211.8,846.2 215.1,845.0 218.2,843.5 221.1,841.8 223.7,840.0 226.1,837.9 228.2,835.6 230.1,833.1 231.7,830.4 233.1,827.6 234.2,824.6 235.1,821.4 235.8,818.1 236.2,814.6 236.3,811.0 236.3,773.5 197.8,773.5 197.8,811.0 212.8,811.0ZM134.5,575.1 130.5,578.8 126.5,582.2 122.4,585.3 118.3,588.3 114.2,590.9 110.1,593.4 105.9,595.6 101.8,597.6 97.6,599.3 93.3,600.8 89.1,602.1 84.8,603.1 84.8,658.5 88.3,657.5 91.8,656.5 95.2,655.4 98.6,654.2 101.9,653.0 105.1,651.7 108.3,650.3 111.4,648.9 114.5,647.4 117.5,645.9 120.4,644.3 123.3,642.7 126.1,641.0 128.9,639.2 128.9,811.0 191.4,811.0 191.4,567.1 142.5,567.1 138.5,571.2Z"/>
<path fill="#88C3BE" fill-rule="evenodd" d="M529.5,811.0 529.5,761.6 551.0,761.6 552.7,761.6 553.4,761.6 555.0,761.6 636.2,761.6 636.2,811.0 697.9,811.0 697.9,761.6 721.1,761.6 721.1,711.9 697.9,711.9 697.9,567.7 628.6,567.7 553.4,711.9 552.7,711.9 551.0,711.9 529.5,711.9 529.5,567.7 509.9,567.7 406.0,671.6 385.0,711.9 385.0,761.6 467.8,761.6 467.8,811.0ZM636.2,711.9 599.0,711.9 636.2,637.7ZM430.6,711.9 467.8,637.7 467.8,711.9ZM270.7,808.0 274.6,809.9 278.7,811.5 283.0,812.8 287.6,813.9 292.6,814.6 298.3,815.1 306.1,815.2 313.9,815.1 319.6,814.6 324.6,813.9 329.2,812.8 333.5,811.5 337.6,809.9 341.5,808.0 345.2,805.8 348.7,803.4 352.0,800.6 355.2,797.6 358.2,794.3 361.1,790.8 363.8,787.0 366.4,782.9 368.8,778.6 371.0,774.0 373.1,769.2 375.0,764.2 376.8,758.9 378.4,753.4 379.8,747.6 381.0,741.6 382.1,735.4 383.1,728.8 383.8,722.0 384.4,714.9 384.9,707.3 385.1,699.1 385.2,692.4 320.8,756.8 320.6,757.2 319.6,758.7 318.6,760.2 317.5,761.5 316.3,762.7 315.0,763.7 313.7,764.6 312.3,765.4 312.1,765.5 270.0,807.6Z"/>
<path fill="#5AB4AE" fill-rule="evenodd" d="M460.2,567.7 406.0,671.6 509.9,567.7ZM383.8,655.7 383.1,648.9 382.1,642.3 381.0,636.1 379.8,630.1 379.7,629.8 324.3,685.2 324.3,742.4 324.2,744.4 324.1,746.4 323.8,748.3 323.3,750.2 322.8,752.1 322.2,753.9 321.4,755.6 320.8,756.8 385.2,692.4 385.2,688.9 385.1,678.6 384.9,670.4 384.4,662.8ZM241.2,774.0 243.4,778.6 245.8,782.9 248.4,787.0 251.1,790.8 254.0,794.3 257.0,797.6 260.2,800.6 263.5,803.4 267.0,805.8 270.0,807.6 312.1,765.5 310.9,766.0 309.4,766.5 307.9,766.8 306.4,767.0 305.0,767.0 303.5,766.8 302.0,766.5 300.5,766.0 299.1,765.4 297.7,764.6 296.4,763.7 295.1,762.7 293.9,761.5 292.8,760.2 291.8,758.7 290.8,757.2 290.0,755.6 289.2,753.9 288.6,752.1 288.1,750.2 287.6,748.3 287.3,746.4 287.2,744.4 287.1,742.4 287.1,722.4 239.5,770.0ZM212.6,814.5 212.3,816.2 212.0,817.7 211.5,819.2 211.0,820.6 210.3,821.9 209.5,823.1 208.7,824.2 207.7,825.2 206.6,826.1 205.5,826.9 204.2,827.6 202.8,828.2 201.3,828.7 199.8,829.1 198.1,829.4 196.3,829.5 196.3,848.8 200.5,848.5 204.5,848.0 208.3,847.2 211.8,846.2 215.1,845.0 218.2,843.5 221.1,841.8 223.7,840.0 226.1,837.9 228.2,835.6 230.1,833.1 231.7,830.4 233.1,827.6 234.2,824.6 235.1,821.4 235.8,818.1 236.2,814.6 236.3,811.0 236.3,773.5 236.0,773.5 198.5,811.0 212.8,811.0 212.7,812.8Z"/>
<path fill="#00A69C" fill-rule="evenodd" d="M378.4,624.3 376.8,618.8 375.0,613.5 373.1,608.5 371.0,603.7 368.8,599.1 366.4,594.8 363.8,590.7 361.1,586.9 358.2,583.4 355.2,580.1 352.0,577.1 348.7,574.3 345.2,571.9 341.5,569.7 337.6,567.8 333.5,566.2 329.2,564.9 324.6,563.8 319.6,563.1 313.9,562.6 306.1,562.5 298.3,562.6 292.6,563.1 287.6,563.8 283.0,564.9 278.7,566.2 274.6,567.8 270.7,569.7 267.0,571.9 263.5,574.3 260.2,577.1 257.0,580.1 254.0,583.4 251.1,586.9 248.4,590.7 245.8,594.8 243.4,599.1 241.2,603.7 239.1,608.5 237.2,613.5 235.4,618.8 233.8,624.3 232.4,630.1 231.2,636.1 230.1,642.3 229.1,648.9 228.4,655.7 227.8,662.8 227.3,670.4 227.1,678.6 227.0,688.9 227.1,699.1 227.3,707.3 227.8,714.9 228.4,722.0 229.1,728.8 230.1,735.4 231.2,741.6 232.4,747.6 233.8,753.4 235.4,758.9 237.2,764.2 239.1,769.2 239.5,770.0 287.1,722.4 287.1,635.7 287.2,633.7 287.3,631.7 287.6,629.8 288.1,627.9 288.6,626.0 289.2,624.2 290.0,622.5 290.8,620.9 291.8,619.4 292.8,617.9 293.9,616.6 295.1,615.4 296.4,614.4 297.7,613.5 299.1,612.7 300.5,612.1 302.0,611.6 303.5,611.3 305.0,611.1 306.4,611.1 307.9,611.3 309.4,611.6 310.9,612.1 312.3,612.7 313.7,613.5 315.0,614.4 316.3,615.4 317.5,616.6 318.6,617.9 319.6,619.4 320.6,620.9 321.4,622.5 322.2,624.2 322.8,626.0 323.3,627.9 323.8,629.8 324.1,631.7 324.2,633.7 324.3,635.7 324.3,685.2 379.7,629.8ZM197.8,773.5 197.8,811.0 198.5,811.0 236.0,773.5ZM130.5,578.8 126.5,582.2 122.4,585.3 118.3,588.3 114.2,590.9 110.1,593.4 105.9,595.6 101.8,597.6 97.6,599.3 93.3,600.8 89.1,602.1 84.8,603.1 84.8,658.5 88.3,657.5 91.8,656.5 95.2,655.4 98.6,654.2 101.9,653.0 105.1,651.7 108.3,650.3 111.4,648.9 114.5,647.4 117.5,645.9 120.4,644.3 123.3,642.7 126.1,641.0 128.9,639.2 128.9,811.0 191.4,811.0 191.4,567.1 142.5,567.1 138.5,571.2 134.5,575.1Z"/>
<path fill="none" stroke="#fff" stroke-opacity=".7" stroke-width="1.8" stroke-linejoin="round" d="M650.2,858.4 643.9,860.7 638.1,863.5 632.8,866.7 628.1,870.5 623.8,874.7 620.1,879.3 617.0,884.5 614.4,890.0 612.3,896.1 610.9,902.7 610.0,910.2 609.7,920.1 609.7,921.7 609.7,923.3 609.8,924.9 609.9,926.5 610.1,928.1 610.2,929.6 610.4,931.2 610.6,932.8 610.9,934.4 611.2,936.0 611.5,937.6 611.8,939.1 612.2,940.7 612.6,942.2 613.1,943.8 613.6,945.3 614.1,946.8 614.7,948.3 615.3,949.8 615.9,951.3 616.6,952.7 617.3,954.1 618.1,955.5 618.9,956.9 619.7,958.3 620.6,959.6 621.5,960.9 622.4,962.2 623.4,963.5 624.4,964.8 625.4,966.0 626.5,967.2 627.6,968.4 628.7,969.5 629.8,970.7 630.9,971.8 632.0,972.9 633.2,974.0 634.3,975.1 635.5,976.2 634.0,976.9 632.5,977.7 631.0,978.4 629.5,979.1 628.0,979.9 626.6,980.7 625.1,981.6 623.8,982.5 622.4,983.5 621.1,984.5 619.9,985.6 618.6,986.7 617.5,987.9 616.3,989.2 615.3,990.5 614.2,991.8 613.2,993.1 612.3,994.5 611.4,995.9 610.6,997.4 609.7,998.8 609.0,1000.3 608.3,1001.8 607.6,1003.4 607.0,1004.9 606.4,1006.5 605.9,1008.1 605.4,1009.7 604.9,1011.3 604.4,1012.9 604.1,1014.5 603.7,1016.1 603.4,1017.8 603.1,1019.4 602.9,1021.1 602.7,1022.8 602.5,1024.4 602.4,1026.1 602.3,1027.8 602.3,1029.4 602.6,1041.2 603.6,1050.1 605.2,1058.0 607.4,1065.2 610.3,1071.9 613.8,1078.0 617.9,1083.5 622.5,1088.5 627.8,1093.0 633.6,1096.9 639.9,1100.2 646.9,1102.9 654.4,1105.1 662.7,1106.6 672.0,1107.5 684.3,1107.8 696.6,1107.5 705.9,1106.6 714.2,1105.1 721.7,1102.9 728.7,1100.2 735.0,1096.9 740.8,1093.0 746.1,1088.5 750.7,1083.5 754.8,1078.0 758.3,1071.9 761.2,1065.2 763.4,1058.0 765.0,1050.1 766.0,1041.2 766.3,1029.4 766.3,1027.8 766.2,1026.1 766.1,1024.4 765.9,1022.8 765.7,1021.1 765.5,1019.4 765.2,1017.8 764.9,1016.1 764.5,1014.5 764.2,1012.9 763.7,1011.3 763.2,1009.7 762.7,1008.1 762.2,1006.5 761.6,1004.9 761.0,1003.4 760.3,1001.8 759.6,1000.3 758.9,998.8 758.0,997.4 757.2,995.9 756.3,994.5 755.4,993.1 754.4,991.8 753.3,990.5 752.3,989.2 751.1,987.9 750.0,986.7 748.7,985.6 747.5,984.5 746.2,983.5 744.8,982.5 743.5,981.6 742.0,980.7 740.6,979.9 739.1,979.1 737.6,978.4 736.1,977.7 734.6,976.9 733.1,976.2 734.3,975.1 735.4,974.0 736.6,972.9 737.7,971.8 738.8,970.7 739.9,969.5 741.0,968.4 742.1,967.2 743.2,966.0 744.2,964.8 745.2,963.5 746.2,962.2 747.1,960.9 748.0,959.6 748.9,958.3 749.7,956.9 750.5,955.5 751.3,954.1 752.0,952.7 752.7,951.3 753.3,949.8 753.9,948.3 754.5,946.8 755.0,945.3 755.5,943.8 756.0,942.2 756.4,940.7 756.8,939.1 757.1,937.6 757.4,936.0 757.7,934.4 758.0,932.8 758.2,931.2 758.4,929.6 758.5,928.1 758.7,926.5 758.8,924.9 758.9,923.3 758.9,921.7 758.9,920.1 758.6,910.2 757.7,902.7 756.3,896.1 754.2,890.0 751.6,884.5 748.5,879.3 744.8,874.7 740.5,870.5 735.8,866.7 730.5,863.5 724.7,860.7 718.4,858.4 711.5,856.6 704.0,855.3 695.5,854.5 684.3,854.3 673.1,854.5 664.6,855.3 657.1,856.6ZM704.6,1041.1 704.2,1043.6 703.8,1045.8 703.3,1047.8 702.7,1049.6 702.0,1051.3 701.2,1052.9 700.3,1054.3 699.3,1055.5 698.2,1056.7 697.1,1057.7 695.8,1058.5 694.4,1059.2 693.0,1059.8 691.3,1060.3 689.5,1060.6 687.4,1060.8 684.3,1060.9 681.2,1060.8 679.1,1060.6 677.3,1060.3 675.6,1059.8 674.2,1059.2 672.8,1058.5 671.5,1057.7 670.4,1056.7 669.3,1055.5 668.3,1054.3 667.4,1052.9 666.6,1051.3 665.9,1049.6 665.3,1047.8 664.8,1045.8 664.4,1043.6 664.0,1041.1 663.8,1038.4 663.7,1035.1 663.6,1029.7 663.7,1024.3 663.8,1021.0 664.0,1018.3 664.4,1015.8 664.8,1013.6 665.3,1011.6 665.9,1009.8 666.6,1008.1 667.4,1006.5 668.3,1005.1 669.3,1003.9 670.4,1002.7 671.5,1001.7 672.8,1000.9 674.2,1000.2 675.6,999.6 677.3,999.1 679.1,998.8 681.2,998.6 684.3,998.5 687.4,998.6 689.5,998.8 691.3,999.1 693.0,999.6 694.4,1000.2 695.8,1000.9 697.1,1001.7 698.2,1002.7 699.3,1003.9 700.3,1005.1 701.2,1006.5 702.0,1008.1 702.7,1009.8 703.3,1011.6 703.8,1013.6 704.2,1015.8 704.6,1018.3 704.8,1021.0 704.9,1024.3 705.0,1029.7 704.9,1035.1 704.8,1038.4ZM702.0,939.3 701.6,941.2 701.2,943.0 700.6,944.6 700.0,946.1 699.3,947.4 698.5,948.6 697.7,949.7 696.7,950.7 695.7,951.6 694.5,952.3 693.3,953.0 692.0,953.5 690.6,953.9 689.0,954.2 687.1,954.3 684.3,954.4 681.5,954.3 679.6,954.2 678.0,953.9 676.6,953.5 675.3,953.0 674.1,952.3 672.9,951.6 671.9,950.7 670.9,949.7 670.1,948.6 669.3,947.4 668.6,946.1 668.0,944.6 667.4,943.0 667.0,941.2 666.6,939.3 666.3,937.2 666.1,934.8 666.0,931.9 665.9,927.2 666.0,922.5 666.1,919.6 666.3,917.2 666.6,915.1 667.0,913.2 667.4,911.4 668.0,909.8 668.6,908.3 669.3,907.0 670.1,905.8 670.9,904.7 671.9,903.7 672.9,902.8 674.1,902.1 675.3,901.4 676.6,900.9 678.0,900.5 679.6,900.2 681.5,900.1 684.3,900.0 687.1,900.1 689.0,900.2 690.6,900.5 692.0,900.9 693.3,901.4 694.5,902.1 695.7,902.8 696.7,903.7 697.7,904.7 698.5,905.8 699.3,907.0 700.0,908.3 700.6,909.8 701.2,911.4 701.6,913.2 702.0,915.1 702.3,917.2 702.5,919.6 702.6,922.5 702.7,927.2 702.6,931.9 702.5,934.8 702.3,937.2ZM600.6,955.0 600.0,947.9 599.3,941.1 598.3,934.5 597.2,928.3 596.0,922.3 594.5,916.5 592.9,911.0 591.2,905.7 589.2,900.7 587.2,895.9 584.9,891.3 582.5,887.0 579.9,882.9 577.2,879.1 574.3,875.6 571.3,872.3 568.1,869.3 564.7,866.5 561.2,864.1 557.5,861.9 553.6,860.0 549.5,858.4 545.2,857.1 540.5,856.0 535.5,855.3 529.9,854.8 522.0,854.7 514.1,854.8 508.5,855.3 503.5,856.0 498.8,857.1 494.5,858.4 490.4,860.0 486.5,861.9 482.8,864.1 479.3,866.5 475.9,869.3 472.7,872.3 469.7,875.6 466.8,879.1 464.1,882.9 461.5,887.0 459.1,891.3 456.8,895.9 454.8,900.7 452.8,905.7 451.1,911.0 449.5,916.5 448.0,922.3 446.8,928.3 445.7,934.5 444.7,941.1 444.0,947.9 443.4,955.0 442.9,962.6 442.7,970.8 442.6,981.1 442.7,991.3 442.9,999.5 443.4,1007.1 444.0,1014.2 444.7,1021.0 445.7,1027.6 446.8,1033.8 448.0,1039.8 449.5,1045.6 451.1,1051.1 452.8,1056.4 454.8,1061.4 456.8,1066.2 459.1,1070.8 461.5,1075.1 464.1,1079.2 466.8,1083.0 469.7,1086.5 472.7,1089.8 475.9,1092.8 479.3,1095.6 482.8,1098.0 486.5,1100.2 490.4,1102.1 494.5,1103.7 498.8,1105.0 503.5,1106.1 508.5,1106.8 514.1,1107.3 522.0,1107.4 529.9,1107.3 535.5,1106.8 540.5,1106.1 545.2,1105.0 549.5,1103.7 553.6,1102.1 557.5,1100.2 561.2,1098.0 564.7,1095.6 568.1,1092.8 571.3,1089.8 574.3,1086.5 577.2,1083.0 579.9,1079.2 582.5,1075.1 584.9,1070.8 587.2,1066.2 589.2,1061.4 591.2,1056.4 592.9,1051.1 594.5,1045.6 596.0,1039.8 597.2,1033.8 598.3,1027.6 599.3,1021.0 600.0,1014.2 600.6,1007.1 601.1,999.5 601.3,991.3 601.4,981.1 601.3,970.8 601.1,962.6ZM540.0,1038.5 539.7,1040.4 539.3,1042.4 538.8,1044.2 538.1,1046.0 537.4,1047.7 536.5,1049.4 535.6,1050.9 534.5,1052.3 533.4,1053.6 532.2,1054.8 530.9,1055.9 529.6,1056.8 528.2,1057.6 526.8,1058.2 525.3,1058.7 523.9,1059.0 522.4,1059.2 520.8,1059.2 519.3,1059.0 517.9,1058.7 516.4,1058.2 515.0,1057.6 513.6,1056.8 512.3,1055.9 511.0,1054.8 509.8,1053.6 508.7,1052.3 507.6,1050.9 506.7,1049.4 505.8,1047.7 505.1,1046.0 504.4,1044.2 503.9,1042.4 503.5,1040.4 503.2,1038.5 503.0,1036.5 502.9,1034.5 502.9,928.0 503.0,926.0 503.2,924.0 503.5,922.1 503.9,920.1 504.4,918.3 505.1,916.5 505.8,914.8 506.7,913.1 507.6,911.6 508.7,910.2 509.8,908.9 511.0,907.7 512.3,906.6 513.6,905.7 515.0,904.9 516.4,904.3 517.9,903.8 519.3,903.5 520.8,903.3 522.4,903.3 523.9,903.5 525.3,903.8 526.8,904.3 528.2,904.9 529.6,905.7 530.9,906.6 532.2,907.7 533.4,908.9 534.5,910.2 535.6,911.6 536.5,913.1 537.4,914.8 538.1,916.5 538.8,918.3 539.3,920.1 539.7,922.1 540.0,924.0 540.2,926.0 540.3,928.0 540.3,1034.5 540.2,1036.5ZM325.6,858.4 319.3,860.7 313.5,863.5 308.2,866.7 303.5,870.5 299.2,874.7 295.5,879.3 292.4,884.5 289.8,890.0 287.7,896.1 286.3,902.7 285.4,910.2 285.1,920.1 285.1,921.7 285.1,923.3 285.2,924.9 285.3,926.5 285.5,928.1 285.6,929.6 285.8,931.2 286.0,932.8 286.3,934.4 286.6,936.0 286.9,937.6 287.2,939.1 287.6,940.7 288.0,942.2 288.5,943.8 289.0,945.3 289.5,946.8 290.1,948.3 290.7,949.8 291.3,951.3 292.0,952.7 292.7,954.1 293.5,955.5 294.3,956.9 295.1,958.3 296.0,959.6 296.9,960.9 297.8,962.2 298.8,963.5 299.8,964.8 300.8,966.0 301.9,967.2 303.0,968.4 304.1,969.5 305.2,970.7 306.3,971.8 307.4,972.9 308.6,974.0 309.7,975.1 310.9,976.2 309.4,976.9 307.9,977.7 306.4,978.4 304.9,979.1 303.4,979.9 302.0,980.7 300.5,981.6 299.2,982.5 297.8,983.5 296.5,984.5 295.3,985.6 294.0,986.7 292.9,987.9 291.7,989.2 290.7,990.5 289.6,991.8 288.6,993.1 287.7,994.5 286.8,995.9 286.0,997.4 285.1,998.8 284.4,1000.3 283.7,1001.8 283.0,1003.4 282.4,1004.9 281.8,1006.5 281.3,1008.1 280.8,1009.7 280.3,1011.3 279.8,1012.9 279.5,1014.5 279.1,1016.1 278.8,1017.8 278.5,1019.4 278.3,1021.1 278.1,1022.8 277.9,1024.4 277.8,1026.1 277.7,1027.8 277.7,1029.4 278.0,1041.2 279.0,1050.1 280.6,1058.0 282.8,1065.2 283.0,1065.7 245.3,1065.7 245.3,1103.2 260.3,1103.2 260.2,1105.0 260.1,1106.7 259.8,1108.4 259.5,1109.9 259.0,1111.4 258.5,1112.8 257.8,1114.1 257.0,1115.3 256.2,1116.4 255.2,1117.4 254.1,1118.3 253.0,1119.1 251.7,1119.8 250.3,1120.4 248.8,1120.9 247.3,1121.3 245.6,1121.6 243.8,1121.7 243.8,1141.0 248.0,1140.7 252.0,1140.2 255.8,1139.4 259.3,1138.4 262.6,1137.2 265.7,1135.7 268.6,1134.0 271.2,1132.2 273.6,1130.1 275.7,1127.8 277.6,1125.3 279.2,1122.6 280.6,1119.8 281.7,1116.8 282.6,1113.6 283.3,1110.3 283.7,1106.8 283.8,1103.2 283.8,1067.4 285.7,1071.9 289.2,1078.0 293.3,1083.5 297.9,1088.5 303.2,1093.0 309.0,1096.9 315.3,1100.2 322.3,1102.9 329.8,1105.1 338.1,1106.6 347.4,1107.5 359.7,1107.8 372.0,1107.5 381.3,1106.6 389.6,1105.1 397.1,1102.9 404.1,1100.2 410.4,1096.9 416.2,1093.0 421.5,1088.5 426.1,1083.5 430.2,1078.0 433.7,1071.9 436.6,1065.2 438.8,1058.0 440.4,1050.1 441.4,1041.2 441.7,1029.4 441.7,1027.8 441.6,1026.1 441.5,1024.4 441.3,1022.8 441.1,1021.1 440.9,1019.4 440.6,1017.8 440.3,1016.1 439.9,1014.5 439.6,1012.9 439.1,1011.3 438.6,1009.7 438.1,1008.1 437.6,1006.5 437.0,1004.9 436.4,1003.4 435.7,1001.8 435.0,1000.3 434.3,998.8 433.4,997.4 432.6,995.9 431.7,994.5 430.8,993.1 429.8,991.8 428.7,990.5 427.7,989.2 426.5,987.9 425.4,986.7 424.1,985.6 422.9,984.5 421.6,983.5 420.2,982.5 418.9,981.6 417.4,980.7 416.0,979.9 414.5,979.1 413.0,978.4 411.5,977.7 410.0,976.9 408.5,976.2 409.7,975.1 410.8,974.0 412.0,972.9 413.1,971.8 414.2,970.7 415.3,969.5 416.4,968.4 417.5,967.2 418.6,966.0 419.6,964.8 420.6,963.5 421.6,962.2 422.5,960.9 423.4,959.6 424.3,958.3 425.1,956.9 425.9,955.5 426.7,954.1 427.4,952.7 428.1,951.3 428.7,949.8 429.3,948.3 429.9,946.8 430.4,945.3 430.9,943.8 431.4,942.2 431.8,940.7 432.2,939.1 432.5,937.6 432.8,936.0 433.1,934.4 433.4,932.8 433.6,931.2 433.8,929.6 433.9,928.1 434.1,926.5 434.2,924.9 434.3,923.3 434.3,921.7 434.3,920.1 434.0,910.2 433.1,902.7 431.7,896.1 429.6,890.0 427.0,884.5 423.9,879.3 420.2,874.7 415.9,870.5 411.2,866.7 405.9,863.5 400.1,860.7 393.8,858.4 386.9,856.6 379.4,855.3 370.9,854.5 359.7,854.3 348.5,854.5 340.0,855.3 332.5,856.6ZM380.0,1041.1 379.6,1043.6 379.2,1045.8 378.7,1047.8 378.1,1049.6 377.4,1051.3 376.6,1052.9 375.7,1054.3 374.7,1055.5 373.6,1056.7 372.5,1057.7 371.2,1058.5 369.8,1059.2 368.4,1059.8 366.7,1060.3 364.9,1060.6 362.8,1060.8 359.7,1060.9 356.6,1060.8 354.5,1060.6 352.7,1060.3 351.0,1059.8 349.6,1059.2 348.2,1058.5 346.9,1057.7 345.8,1056.7 344.7,1055.5 343.7,1054.3 342.8,1052.9 342.0,1051.3 341.3,1049.6 340.7,1047.8 340.2,1045.8 339.8,1043.6 339.4,1041.1 339.2,1038.4 339.1,1035.1 339.0,1029.7 339.1,1024.3 339.2,1021.0 339.4,1018.3 339.8,1015.8 340.2,1013.6 340.7,1011.6 341.3,1009.8 342.0,1008.1 342.8,1006.5 343.7,1005.1 344.7,1003.9 345.8,1002.7 346.9,1001.7 348.2,1000.9 349.6,1000.2 351.0,999.6 352.7,999.1 354.5,998.8 356.6,998.6 359.7,998.5 362.8,998.6 364.9,998.8 366.7,999.1 368.4,999.6 369.8,1000.2 371.2,1000.9 372.5,1001.7 373.6,1002.7 374.7,1003.9 375.7,1005.1 376.6,1006.5 377.4,1008.1 378.1,1009.8 378.7,1011.6 379.2,1013.6 379.6,1015.8 380.0,1018.3 380.2,1021.0 380.3,1024.3 380.4,1029.7 380.3,1035.1 380.2,1038.4ZM377.4,939.3 377.0,941.2 376.6,943.0 376.0,944.6 375.4,946.1 374.7,947.4 373.9,948.6 373.1,949.7 372.1,950.7 371.1,951.6 369.9,952.3 368.7,953.0 367.4,953.5 366.0,953.9 364.4,954.2 362.5,954.3 359.7,954.4 356.9,954.3 355.0,954.2 353.4,953.9 352.0,953.5 350.7,953.0 349.5,952.3 348.3,951.6 347.3,950.7 346.3,949.7 345.5,948.6 344.7,947.4 344.0,946.1 343.4,944.6 342.8,943.0 342.4,941.2 342.0,939.3 341.7,937.2 341.5,934.8 341.4,931.9 341.3,927.2 341.4,922.5 341.5,919.6 341.7,917.2 342.0,915.1 342.4,913.2 342.8,911.4 343.4,909.8 344.0,908.3 344.7,907.0 345.5,905.8 346.3,904.7 347.3,903.7 348.3,902.8 349.5,902.1 350.7,901.4 352.0,900.9 353.4,900.5 355.0,900.2 356.9,900.1 359.7,900.0 362.5,900.1 364.4,900.2 366.0,900.5 367.4,900.9 368.7,901.4 369.9,902.1 371.1,902.8 372.1,903.7 373.1,904.7 373.9,905.8 374.7,907.0 375.4,908.3 376.0,909.8 376.6,911.4 377.0,913.2 377.4,915.1 377.7,917.2 377.9,919.6 378.0,922.5 378.1,927.2 378.0,931.9 377.9,934.8 377.7,937.2ZM145.7,1003.0 145.9,1001.3 146.4,999.7 146.9,998.2 147.7,996.8 148.6,995.4 149.6,994.2 150.8,993.1 152.2,992.1 153.6,991.2 155.2,990.5 156.9,989.8 158.7,989.3 160.6,989.0 162.7,988.8 165.0,988.7 168.4,988.8 170.8,989.2 172.8,989.8 174.7,990.6 176.4,991.7 177.9,993.1 179.3,994.6 180.5,996.4 181.7,998.4 182.6,1000.7 183.4,1003.2 184.1,1005.9 184.6,1009.0 185.0,1012.3 185.2,1016.2 185.3,1021.7 185.2,1028.0 185.0,1032.4 184.7,1036.2 184.2,1039.7 183.5,1042.8 182.8,1045.6 181.9,1048.2 180.8,1050.5 179.6,1052.5 178.3,1054.3 176.9,1055.8 175.3,1057.1 173.5,1058.0 171.6,1058.7 169.3,1059.2 166.1,1059.3 163.4,1059.2 161.2,1058.8 159.1,1058.2 157.2,1057.4 155.4,1056.3 153.8,1055.0 152.3,1053.5 150.9,1051.8 149.7,1049.9 148.6,1047.8 147.7,1045.5 147.0,1043.0 146.4,1040.3 145.9,1037.5 145.7,1034.3 145.6,1030.5 84.6,1030.5 84.9,1042.5 85.9,1051.4 87.4,1059.2 89.6,1066.3 92.4,1072.7 95.8,1078.7 99.8,1084.1 104.3,1088.9 109.5,1093.2 115.2,1097.0 121.4,1100.2 128.3,1102.9 135.8,1104.9 144.1,1106.4 153.4,1107.3 166.1,1107.6 178.9,1107.3 188.3,1106.3 196.5,1104.6 204.1,1102.3 211.0,1099.4 217.3,1095.8 223.0,1091.6 228.2,1086.8 232.8,1081.4 236.8,1075.4 240.2,1068.8 243.0,1061.5 245.2,1053.6 246.7,1044.9 247.7,1035.1 248.0,1021.7 247.8,1009.4 247.1,1000.4 245.9,992.4 244.3,985.1 242.2,978.5 239.6,972.4 236.6,966.9 233.2,961.9 229.4,957.5 225.1,953.6 220.4,950.3 215.3,947.6 209.7,945.5 203.5,944.0 196.5,943.1 187.0,942.8 183.9,942.9 180.8,943.0 177.9,943.3 175.0,943.7 172.2,944.2 169.6,944.8 167.1,945.5 164.7,946.3 162.4,947.2 160.2,948.2 158.2,949.3 156.4,950.5 154.7,951.8 153.2,953.2 151.9,954.6 150.7,956.2 149.8,957.8 149.0,959.5 155.2,911.0 235.0,911.0 235.0,859.2 109.7,859.2 92.6,1001.3 145.6,1005.0Z"/>
<path fill="#88C3BE" fill-rule="evenodd" d="M627.6,968.4 628.7,969.5 629.8,970.7 630.9,971.8 632.0,972.9 633.2,974.0 634.3,975.1 635.5,976.2 634.0,976.9 632.5,977.7 631.0,978.4 629.5,979.1 628.0,979.9 626.6,980.7 625.1,981.6 623.8,982.5 622.4,983.5 621.1,984.5 619.9,985.6 618.6,986.7 617.5,987.9 616.3,989.2 615.3,990.5 614.2,991.8 613.2,993.1 612.3,994.5 611.4,995.9 610.6,997.4 609.7,998.8 609.0,1000.3 608.3,1001.8 607.6,1003.4 607.0,1004.9 606.4,1006.5 605.9,1008.1 605.4,1009.7 604.9,1011.3 604.4,1012.9 604.1,1014.5 603.7,1016.1 603.4,1017.8 603.1,1019.4 602.9,1021.1 602.7,1022.8 602.5,1024.4 602.4,1026.1 602.3,1027.8 602.3,1029.4 602.6,1041.2 603.6,1050.1 605.2,1058.0 607.4,1065.2 610.3,1071.9 613.8,1078.0 617.9,1083.5 622.5,1088.5 627.8,1093.0 633.6,1096.9 639.9,1100.2 646.9,1102.9 654.4,1105.1 662.7,1106.6 672.0,1107.5 684.3,1107.8 696.6,1107.5 705.9,1106.6 714.2,1105.1 721.7,1102.9 728.7,1100.2 735.0,1096.9 740.8,1093.0 746.1,1088.5 750.7,1083.5 754.8,1078.0 758.3,1071.9 761.2,1065.2 763.4,1058.0 765.0,1050.1 766.0,1041.2 766.3,1029.4 766.3,1027.8 766.2,1026.1 766.1,1024.4 765.9,1022.8 765.7,1021.1 765.5,1019.4 765.2,1017.8 764.9,1016.1 764.5,1014.5 764.2,1012.9 763.7,1011.3 763.2,1009.7 762.7,1008.1 762.2,1006.5 761.6,1004.9 761.0,1003.4 760.3,1001.8 759.6,1000.3 758.9,998.8 758.0,997.4 757.2,995.9 756.3,994.5 755.4,993.1 754.4,991.8 753.3,990.5 752.3,989.2 751.1,987.9 750.0,986.7 748.7,985.6 747.5,984.5 746.2,983.5 744.8,982.5 743.5,981.6 742.0,980.7 740.6,979.9 739.1,979.1 737.6,978.4 736.1,977.7 734.6,976.9 733.1,976.2 734.3,975.1 735.4,974.0 736.6,972.9 737.7,971.8 738.8,970.7 739.9,969.5 741.0,968.4 742.1,967.2 743.2,966.0 744.2,964.8 745.2,963.5 746.2,962.2 747.1,960.9 748.0,959.6 748.9,958.3 749.7,956.9 750.5,955.5 751.3,954.1 752.0,952.7 752.7,951.3 753.3,949.8 753.9,948.3 754.5,946.8 755.0,945.3 755.5,943.8 756.0,942.2 756.4,940.7 756.8,939.1 757.1,937.6 757.4,936.0 757.7,934.4 758.0,932.8 758.2,931.2 758.4,929.6 758.5,928.1 758.7,926.5 758.8,924.9 758.9,923.3 758.9,921.7 758.9,920.1 758.6,910.2 757.7,902.7 756.3,896.1 754.2,890.0 751.6,884.5 748.5,879.3 744.8,874.7 740.5,870.5 735.8,866.7 731.6,864.1 693.9,901.8 694.5,902.1 695.7,902.8 696.7,903.7 697.7,904.7 698.5,905.8 699.3,907.0 700.0,908.3 700.6,909.8 701.2,911.4 701.6,913.2 702.0,915.1 702.3,917.2 702.5,919.6 702.6,922.5 702.7,927.2 702.6,931.9 702.5,934.8 702.3,937.2 702.0,939.3 701.6,941.2 701.2,943.0 700.6,944.6 700.0,946.1 699.3,947.4 698.5,948.6 697.7,949.7 696.7,950.7 695.7,951.6 694.5,952.3 693.3,953.0 692.0,953.5 690.6,953.9 689.0,954.2 687.1,954.3 684.3,954.4 681.5,954.3 679.6,954.2 678.0,953.9 676.6,953.5 675.3,953.0 674.1,952.3 672.9,951.6 671.9,950.7 670.9,949.7 670.1,948.6 669.3,947.4 668.6,946.1 668.0,944.6 667.4,943.0 667.0,941.2 666.6,939.3 666.3,937.2 666.1,934.8 666.0,931.9 665.9,929.8 627.5,968.2ZM704.2,1043.6 703.8,1045.8 703.3,1047.8 702.7,1049.6 702.0,1051.3 701.2,1052.9 700.3,1054.3 699.3,1055.5 698.2,1056.7 697.1,1057.7 695.8,1058.5 694.4,1059.2 693.0,1059.8 691.3,1060.3 689.5,1060.6 687.4,1060.8 684.3,1060.9 681.2,1060.8 679.1,1060.6 677.3,1060.3 675.6,1059.8 674.2,1059.2 672.8,1058.5 671.5,1057.7 670.4,1056.7 669.3,1055.5 668.3,1054.3 667.4,1052.9 666.6,1051.3 665.9,1049.6 665.3,1047.8 664.8,1045.8 664.4,1043.6 664.0,1041.1 663.8,1038.4 663.7,1035.1 663.6,1029.7 663.7,1024.3 663.8,1021.0 664.0,1018.3 664.4,1015.8 664.8,1013.6 665.3,1011.6 665.9,1009.8 666.6,1008.1 667.4,1006.5 668.3,1005.1 669.3,1003.9 670.4,1002.7 671.5,1001.7 672.8,1000.9 674.2,1000.2 675.6,999.6 677.3,999.1 679.1,998.8 681.2,998.6 684.3,998.5 687.4,998.6 689.5,998.8 691.3,999.1 693.0,999.6 694.4,1000.2 695.8,1000.9 697.1,1001.7 698.2,1002.7 699.3,1003.9 700.3,1005.1 701.2,1006.5 702.0,1008.1 702.7,1009.8 703.3,1011.6 703.8,1013.6 704.2,1015.8 704.6,1018.3 704.8,1021.0 704.9,1024.3 705.0,1029.7 704.9,1035.1 704.8,1038.4 704.6,1041.1ZM494.5,1103.7 498.8,1105.0 503.5,1106.1 508.5,1106.8 514.1,1107.3 522.0,1107.4 529.9,1107.3 535.5,1106.8 540.5,1106.1 545.2,1105.0 549.5,1103.7 553.6,1102.1 557.5,1100.2 561.2,1098.0 564.7,1095.6 568.1,1092.8 571.3,1089.8 574.3,1086.5 577.2,1083.0 579.9,1079.2 582.5,1075.1 584.9,1070.8 587.2,1066.2 589.2,1061.4 591.2,1056.4 592.9,1051.1 594.5,1045.6 596.0,1039.8 597.2,1033.8 598.3,1027.6 599.3,1021.0 600.0,1014.2 600.6,1007.1 601.1,999.5 601.2,994.5 492.7,1103.0Z"/>
<path fill="#5AB4AE" fill-rule="evenodd" d="M609.7,920.1 609.7,921.7 609.7,923.3 609.8,924.9 609.9,926.5 610.1,928.1 610.2,929.6 610.4,931.2 610.6,932.8 610.9,934.4 611.2,936.0 611.5,937.6 611.8,939.1 612.2,940.7 612.6,942.2 613.1,943.8 613.6,945.3 614.1,946.8 614.7,948.3 615.3,949.8 615.9,951.3 616.6,952.7 617.3,954.1 618.1,955.5 618.9,956.9 619.7,958.3 620.6,959.6 621.5,960.9 622.4,962.2 623.4,963.5 624.4,964.8 625.4,966.0 626.5,967.2 627.5,968.2 665.9,929.8 665.9,927.2 666.0,922.5 666.1,919.6 666.3,917.2 666.6,915.1 667.0,913.2 667.4,911.4 668.0,909.8 668.6,908.3 669.3,907.0 670.1,905.8 670.9,904.7 671.9,903.7 672.9,902.8 674.1,902.1 675.3,901.4 676.6,900.9 678.0,900.5 679.6,900.2 681.5,900.1 684.3,900.0 687.1,900.1 689.0,900.2 690.6,900.5 692.0,900.9 693.3,901.4 693.9,901.8 731.6,864.1 730.5,863.5 724.7,860.7 718.4,858.4 711.5,856.6 704.0,855.3 695.5,854.5 684.3,854.3 673.1,854.5 672.1,854.6 609.8,916.9ZM600.0,947.9 599.3,941.1 598.3,934.5 597.4,929.3 540.3,986.4 540.3,1034.5 540.2,1036.5 540.0,1038.5 539.7,1040.4 539.3,1042.4 538.8,1044.2 538.1,1046.0 537.4,1047.7 536.5,1049.4 535.6,1050.9 534.5,1052.3 533.4,1053.6 532.2,1054.8 530.9,1055.9 529.6,1056.8 528.2,1057.6 526.8,1058.2 525.3,1058.7 523.9,1059.0 522.4,1059.2 520.8,1059.2 519.3,1059.0 517.9,1058.7 516.4,1058.2 515.0,1057.6 513.6,1056.8 512.3,1055.9 511.0,1054.8 509.8,1053.6 508.7,1052.3 507.6,1050.9 506.7,1049.4 505.8,1047.7 505.1,1046.0 504.4,1044.2 503.9,1042.4 503.5,1040.4 503.2,1038.5 503.0,1036.5 502.9,1034.5 502.9,1023.8 458.0,1068.7 459.1,1070.8 461.5,1075.1 464.1,1079.2 466.8,1083.0 469.7,1086.5 472.7,1089.8 475.9,1092.8 479.3,1095.6 482.8,1098.0 486.5,1100.2 490.4,1102.1 492.7,1103.0 601.2,994.5 601.3,991.3 601.4,981.1 601.3,970.8 601.1,962.6 600.6,955.0Z"/>
<path fill="#00A69C" fill-rule="evenodd" d="M643.9,860.7 638.1,863.5 632.8,866.7 628.1,870.5 623.8,874.7 620.1,879.3 617.0,884.5 614.4,890.0 612.3,896.1 610.9,902.7 610.0,910.2 609.8,916.9 672.1,854.6 664.6,855.3 657.1,856.6 650.2,858.4ZM597.2,928.3 596.0,922.3 594.5,916.5 592.9,911.0 591.2,905.7 589.2,900.7 587.2,895.9 584.9,891.3 582.5,887.0 579.9,882.9 577.2,879.1 574.3,875.6 571.3,872.3 568.1,869.3 564.7,866.5 561.2,864.1 557.5,861.9 553.6,860.0 549.5,858.4 545.2,857.1 540.5,856.0 535.5,855.3 529.9,854.8 522.0,854.7 514.1,854.8 508.5,855.3 503.5,856.0 498.8,857.1 494.5,858.4 490.4,860.0 486.5,861.9 482.8,864.1 479.3,866.5 475.9,869.3 472.7,872.3 469.7,875.6 466.8,879.1 464.1,882.9 461.5,887.0 459.1,891.3 456.8,895.9 454.8,900.7 452.8,905.7 451.1,911.0 449.5,916.5 448.0,922.3 446.8,928.3 445.7,934.5 444.7,941.1 444.0,947.9 443.4,955.0 442.9,962.6 442.7,970.8 442.6,981.1 442.7,991.3 442.9,999.5 443.4,1007.1 444.0,1014.2 444.7,1021.0 445.7,1027.6 446.8,1033.8 448.0,1039.8 449.5,1045.6 451.1,1051.1 452.8,1056.4 454.8,1061.4 456.8,1066.2 458.0,1068.7 502.9,1023.8 502.9,928.0 503.0,926.0 503.2,924.0 503.5,922.1 503.9,920.1 504.4,918.3 505.1,916.5 505.8,914.8 506.7,913.1 507.6,911.6 508.7,910.2 509.8,908.9 511.0,907.7 512.3,906.6 513.6,905.7 515.0,904.9 516.4,904.3 517.9,903.8 519.3,903.5 520.8,903.3 522.4,903.3 523.9,903.5 525.3,903.8 526.8,904.3 528.2,904.9 529.6,905.7 530.9,906.6 532.2,907.7 533.4,908.9 534.5,910.2 535.6,911.6 536.5,913.1 537.4,914.8 538.1,916.5 538.8,918.3 539.3,920.1 539.7,922.1 540.0,924.0 540.2,926.0 540.3,928.0 540.3,986.4 597.4,929.3ZM319.3,860.7 313.5,863.5 308.2,866.7 303.5,870.5 299.2,874.7 295.5,879.3 292.4,884.5 289.8,890.0 287.7,896.1 286.3,902.7 285.4,910.2 285.1,920.1 285.1,921.7 285.1,923.3 285.2,924.9 285.3,926.5 285.5,928.1 285.6,929.6 285.8,931.2 286.0,932.8 286.3,934.4 286.6,936.0 286.9,937.6 287.2,939.1 287.6,940.7 288.0,942.2 288.5,943.8 289.0,945.3 289.5,946.8 290.1,948.3 290.7,949.8 291.3,951.3 292.0,952.7 292.7,954.1 293.5,955.5 294.3,956.9 295.1,958.3 296.0,959.6 296.9,960.9 297.8,962.2 298.8,963.5 299.8,964.8 300.8,966.0 301.9,967.2 303.0,968.4 304.1,969.5 305.2,970.7 306.3,971.8 307.4,972.9 308.6,974.0 309.7,975.1 310.9,976.2 309.4,976.9 307.9,977.7 306.4,978.4 304.9,979.1 303.4,979.9 302.0,980.7 300.5,981.6 299.2,982.5 297.8,983.5 296.5,984.5 295.3,985.6 294.0,986.7 292.9,987.9 291.7,989.2 290.7,990.5 289.6,991.8 288.6,993.1 287.7,994.5 286.8,995.9 286.0,997.4 285.1,998.8 284.4,1000.3 283.7,1001.8 283.0,1003.4 282.4,1004.9 281.8,1006.5 281.3,1008.1 280.8,1009.7 280.3,1011.3 279.8,1012.9 279.5,1014.5 279.1,1016.1 278.8,1017.8 278.5,1019.4 278.3,1021.1 278.1,1022.8 277.9,1024.4 277.8,1026.1 277.7,1027.8 277.7,1029.4 278.0,1041.2 279.0,1050.1 280.6,1058.0 282.8,1065.2 283.0,1065.7 245.3,1065.7 245.3,1103.2 260.3,1103.2 260.2,1105.0 260.1,1106.7 259.8,1108.4 259.5,1109.9 259.0,1111.4 258.5,1112.8 257.8,1114.1 257.0,1115.3 256.2,1116.4 255.2,1117.4 254.1,1118.3 253.0,1119.1 251.7,1119.8 250.3,1120.4 248.8,1120.9 247.3,1121.3 245.6,1121.6 243.8,1121.7 243.8,1141.0 248.0,1140.7 252.0,1140.2 255.8,1139.4 259.3,1138.4 262.6,1137.2 265.7,1135.7 268.6,1134.0 271.2,1132.2 273.6,1130.1 275.7,1127.8 277.6,1125.3 279.2,1122.6 280.6,1119.8 281.7,1116.8 282.6,1113.6 283.3,1110.3 283.7,1106.8 283.8,1103.2 283.8,1067.4 285.7,1071.9 289.2,1078.0 293.3,1083.5 297.9,1088.5 303.2,1093.0 309.0,1096.9 315.3,1100.2 322.3,1102.9 329.8,1105.1 338.1,1106.6 347.4,1107.5 359.7,1107.8 372.0,1107.5 381.3,1106.6 389.6,1105.1 397.1,1102.9 404.1,1100.2 410.4,1096.9 416.2,1093.0 421.5,1088.5 426.1,1083.5 430.2,1078.0 433.7,1071.9 436.6,1065.2 438.8,1058.0 440.4,1050.1 441.4,1041.2 441.7,1029.4 441.7,1027.8 441.6,1026.1 441.5,1024.4 441.3,1022.8 441.1,1021.1 440.9,1019.4 440.6,1017.8 440.3,1016.1 439.9,1014.5 439.6,1012.9 439.1,1011.3 438.6,1009.7 438.1,1008.1 437.6,1006.5 437.0,1004.9 436.4,1003.4 435.7,1001.8 435.0,1000.3 434.3,998.8 433.4,997.4 432.6,995.9 431.7,994.5 430.8,993.1 429.8,991.8 428.7,990.5 427.7,989.2 426.5,987.9 425.4,986.7 424.1,985.6 422.9,984.5 421.6,983.5 420.2,982.5 418.9,981.6 417.4,980.7 416.0,979.9 414.5,979.1 413.0,978.4 411.5,977.7 410.0,976.9 408.5,976.2 409.7,975.1 410.8,974.0 412.0,972.9 413.1,971.8 414.2,970.7 415.3,969.5 416.4,968.4 417.5,967.2 418.6,966.0 419.6,964.8 420.6,963.5 421.6,962.2 422.5,960.9 423.4,959.6 424.3,958.3 425.1,956.9 425.9,955.5 426.7,954.1 427.4,952.7 428.1,951.3 428.7,949.8 429.3,948.3 429.9,946.8 430.4,945.3 430.9,943.8 431.4,942.2 431.8,940.7 432.2,939.1 432.5,937.6 432.8,936.0 433.1,934.4 433.4,932.8 433.6,931.2 433.8,929.6 433.9,928.1 434.1,926.5 434.2,924.9 434.3,923.3 434.3,921.7 434.3,920.1 434.0,910.2 433.1,902.7 431.7,896.1 429.6,890.0 427.0,884.5 423.9,879.3 420.2,874.7 415.9,870.5 411.2,866.7 405.9,863.5 400.1,860.7 393.8,858.4 386.9,856.6 379.4,855.3 370.9,854.5 359.7,854.3 348.5,854.5 340.0,855.3 332.5,856.6 325.6,858.4ZM379.6,1043.6 379.2,1045.8 378.7,1047.8 378.1,1049.6 377.4,1051.3 376.6,1052.9 375.7,1054.3 374.7,1055.5 373.6,1056.7 372.5,1057.7 371.2,1058.5 369.8,1059.2 368.4,1059.8 366.7,1060.3 364.9,1060.6 362.8,1060.8 359.7,1060.9 356.6,1060.8 354.5,1060.6 352.7,1060.3 351.0,1059.8 349.6,1059.2 348.2,1058.5 346.9,1057.7 345.8,1056.7 344.7,1055.5 343.7,1054.3 342.8,1052.9 342.0,1051.3 341.3,1049.6 340.7,1047.8 340.2,1045.8 339.8,1043.6 339.4,1041.1 339.2,1038.4 339.1,1035.1 339.0,1029.7 339.1,1024.3 339.2,1021.0 339.4,1018.3 339.8,1015.8 340.2,1013.6 340.7,1011.6 341.3,1009.8 342.0,1008.1 342.8,1006.5 343.7,1005.1 344.7,1003.9 345.8,1002.7 346.9,1001.7 348.2,1000.9 349.6,1000.2 351.0,999.6 352.7,999.1 354.5,998.8 356.6,998.6 359.7,998.5 362.8,998.6 364.9,998.8 366.7,999.1 368.4,999.6 369.8,1000.2 371.2,1000.9 372.5,1001.7 373.6,1002.7 374.7,1003.9 375.7,1005.1 376.6,1006.5 377.4,1008.1 378.1,1009.8 378.7,1011.6 379.2,1013.6 379.6,1015.8 380.0,1018.3 380.2,1021.0 380.3,1024.3 380.4,1029.7 380.3,1035.1 380.2,1038.4 380.0,1041.1ZM377.0,941.2 376.6,943.0 376.0,944.6 375.4,946.1 374.7,947.4 373.9,948.6 373.1,949.7 372.1,950.7 371.1,951.6 369.9,952.3 368.7,953.0 367.4,953.5 366.0,953.9 364.4,954.2 362.5,954.3 359.7,954.4 356.9,954.3 355.0,954.2 353.4,953.9 352.0,953.5 350.7,953.0 349.5,952.3 348.3,951.6 347.3,950.7 346.3,949.7 345.5,948.6 344.7,947.4 344.0,946.1 343.4,944.6 342.8,943.0 342.4,941.2 342.0,939.3 341.7,937.2 341.5,934.8 341.4,931.9 341.3,927.2 341.4,922.5 341.5,919.6 341.7,917.2 342.0,915.1 342.4,913.2 342.8,911.4 343.4,909.8 344.0,908.3 344.7,907.0 345.5,905.8 346.3,904.7 347.3,903.7 348.3,902.8 349.5,902.1 350.7,901.4 352.0,900.9 353.4,900.5 355.0,900.2 356.9,900.1 359.7,900.0 362.5,900.1 364.4,900.2 366.0,900.5 367.4,900.9 368.7,901.4 369.9,902.1 371.1,902.8 372.1,903.7 373.1,904.7 373.9,905.8 374.7,907.0 375.4,908.3 376.0,909.8 376.6,911.4 377.0,913.2 377.4,915.1 377.7,917.2 377.9,919.6 378.0,922.5 378.1,927.2 378.0,931.9 377.9,934.8 377.7,937.2 377.4,939.3ZM145.9,1001.3 146.4,999.7 146.9,998.2 147.7,996.8 148.6,995.4 149.6,994.2 150.8,993.1 152.2,992.1 153.6,991.2 155.2,990.5 156.9,989.8 158.7,989.3 160.6,989.0 162.7,988.8 165.0,988.7 168.4,988.8 170.8,989.2 172.8,989.8 174.7,990.6 176.4,991.7 177.9,993.1 179.3,994.6 180.5,996.4 181.7,998.4 182.6,1000.7 183.4,1003.2 184.1,1005.9 184.6,1009.0 185.0,1012.3 185.2,1016.2 185.3,1021.7 185.2,1028.0 185.0,1032.4 184.7,1036.2 184.2,1039.7 183.5,1042.8 182.8,1045.6 181.9,1048.2 180.8,1050.5 179.6,1052.5 178.3,1054.3 176.9,1055.8 175.3,1057.1 173.5,1058.0 171.6,1058.7 169.3,1059.2 166.1,1059.3 163.4,1059.2 161.2,1058.8 159.1,1058.2 157.2,1057.4 155.4,1056.3 153.8,1055.0 152.3,1053.5 150.9,1051.8 149.7,1049.9 148.6,1047.8 147.7,1045.5 147.0,1043.0 146.4,1040.3 145.9,1037.5 145.7,1034.3 145.6,1030.5 84.6,1030.5 84.9,1042.5 85.9,1051.4 87.4,1059.2 89.6,1066.3 92.4,1072.7 95.8,1078.7 99.8,1084.1 104.3,1088.9 109.5,1093.2 115.2,1097.0 121.4,1100.2 128.3,1102.9 135.8,1104.9 144.1,1106.4 153.4,1107.3 166.1,1107.6 178.9,1107.3 188.3,1106.3 196.5,1104.6 204.1,1102.3 211.0,1099.4 217.3,1095.8 223.0,1091.6 228.2,1086.8 232.8,1081.4 236.8,1075.4 240.2,1068.8 243.0,1061.5 245.2,1053.6 246.7,1044.9 247.7,1035.1 248.0,1021.7 247.8,1009.4 247.1,1000.4 245.9,992.4 244.3,985.1 242.2,978.5 239.6,972.4 236.6,966.9 233.2,961.9 229.4,957.5 225.1,953.6 220.4,950.3 215.3,947.6 209.7,945.5 203.5,944.0 196.5,943.1 187.0,942.8 183.9,942.9 180.8,943.0 177.9,943.3 175.0,943.7 172.2,944.2 169.6,944.8 167.1,945.5 164.7,946.3 162.4,947.2 160.2,948.2 158.2,949.3 156.4,950.5 154.7,951.8 153.2,953.2 151.9,954.6 150.7,956.2 149.8,957.8 149.0,959.5 155.2,911.0 235.0,911.0 235.0,859.2 109.7,859.2 92.6,1001.3 145.6,1005.0 145.7,1003.0Z"/>
<path fill="none" stroke="#fff" stroke-opacity=".7" stroke-width="1.8" stroke-linejoin="round" d="M1261.8,1299.3 1295.7,1299.3 1295.7,1334.3 1325.5,1334.3 1325.5,1299.3 1358.6,1299.3 1358.6,1269.6 1325.5,1269.6 1325.5,1234.4 1295.7,1234.4 1295.7,1269.6 1261.8,1269.6ZM1212.9,1208.4 1211.0,1211.2 1209.1,1214.1 1207.2,1217.0 1205.4,1219.9 1203.7,1222.8 1201.9,1225.8 1200.2,1228.7 1198.5,1231.7 1196.8,1234.7 1195.2,1237.7 1193.5,1240.7 1191.8,1243.7 1190.2,1246.7 1188.6,1249.8 1187.0,1252.8 1185.5,1255.9 1184.0,1259.0 1182.6,1262.1 1181.1,1265.2 1179.7,1268.3 1178.4,1271.5 1177.0,1274.6 1175.7,1277.8 1174.4,1281.0 1173.2,1284.2 1171.9,1287.4 1170.8,1290.6 1169.6,1293.8 1168.5,1297.1 1167.5,1300.3 1166.5,1303.6 1165.5,1306.9 1164.5,1310.2 1163.5,1313.4 1162.5,1316.7 1161.5,1320.0 1160.6,1323.3 1159.6,1326.6 1158.7,1329.9 1157.9,1333.2 1157.0,1336.6 1156.2,1339.9 1155.5,1343.2 1154.7,1346.6 1154.0,1349.9 1153.3,1353.3 1152.6,1356.6 1151.9,1360.0 1151.3,1363.4 1150.7,1366.8 1150.2,1370.1 1149.7,1373.5 1149.3,1376.9 1148.9,1380.3 1148.6,1383.8 1148.3,1387.2 1148.2,1390.6 1148.1,1394.0 1148.1,1397.5 1216.6,1397.5 1216.6,1393.9 1216.8,1390.4 1216.9,1386.8 1217.2,1383.3 1217.5,1379.7 1217.8,1376.2 1218.2,1372.6 1218.7,1369.1 1219.2,1365.6 1219.7,1362.0 1220.3,1358.5 1221.0,1355.0 1221.7,1351.5 1222.4,1348.0 1223.2,1344.6 1224.0,1341.1 1224.8,1337.6 1225.6,1334.2 1226.4,1330.7 1227.2,1327.2 1228.0,1323.7 1228.9,1320.3 1229.7,1316.8 1230.6,1313.4 1231.6,1310.0 1232.6,1306.6 1233.7,1303.2 1234.8,1299.8 1236.0,1296.4 1237.1,1293.0 1238.3,1289.7 1239.5,1286.3 1240.6,1282.9 1241.8,1279.6 1243.0,1276.2 1244.3,1272.9 1245.5,1269.6 1246.8,1266.2 1248.1,1262.9 1249.4,1259.6 1250.8,1256.3 1252.1,1253.0 1253.6,1249.8 1255.0,1246.5 1256.5,1243.3 1258.0,1240.0 1259.5,1236.8 1261.0,1233.6 1262.6,1230.4 1264.1,1227.2 1265.7,1224.0 1267.3,1220.8 1268.9,1217.6 1270.5,1214.4 1272.2,1211.3 1273.9,1208.1 1275.6,1205.0 1277.3,1201.9 1279.0,1198.8 1280.8,1195.7 1280.8,1154.2 1127.0,1154.2 1127.0,1205.6 1214.9,1205.6ZM1006.3,1157.8 1001.0,1161.0 996.3,1164.8 992.0,1169.0 988.3,1173.6 985.2,1178.8 982.6,1184.3 980.5,1190.4 979.1,1197.0 978.2,1204.5 977.9,1214.4 977.9,1216.0 977.9,1217.6 978.0,1219.2 978.1,1220.8 978.3,1222.4 978.4,1223.9 978.6,1225.5 978.8,1227.1 979.1,1228.7 979.4,1230.3 979.7,1231.9 980.0,1233.4 980.4,1235.0 980.8,1236.5 981.3,1238.1 981.8,1239.6 982.3,1241.1 982.9,1242.6 983.5,1244.1 984.1,1245.6 984.8,1247.0 985.5,1248.4 986.3,1249.8 987.1,1251.2 987.9,1252.6 988.8,1253.9 989.7,1255.2 990.6,1256.5 991.6,1257.8 992.6,1259.1 993.6,1260.3 994.7,1261.5 995.8,1262.7 996.9,1263.8 998.0,1265.0 999.1,1266.1 1000.2,1267.2 1001.4,1268.3 1002.5,1269.4 1003.7,1270.5 1002.2,1271.2 1000.7,1272.0 999.2,1272.7 997.7,1273.4 996.2,1274.2 994.8,1275.0 993.3,1275.9 992.0,1276.8 990.6,1277.8 989.3,1278.8 988.1,1279.9 986.8,1281.0 985.7,1282.2 984.5,1283.5 983.5,1284.8 982.4,1286.1 981.4,1287.4 980.5,1288.8 979.6,1290.2 978.8,1291.7 977.9,1293.1 977.2,1294.6 976.5,1296.1 976.4,1296.3 976.4,1295.9 976.7,1289.9 976.8,1283.5 976.9,1275.4 976.8,1267.4 976.7,1261.0 976.4,1255.0 976.1,1249.4 975.6,1244.0 975.1,1238.8 974.4,1233.8 973.7,1229.0 972.8,1224.3 971.9,1219.7 970.8,1215.3 969.7,1211.0 968.4,1206.8 967.1,1202.8 965.7,1198.9 964.1,1195.1 962.5,1191.5 960.8,1188.0 958.9,1184.7 957.0,1181.4 955.0,1178.4 952.9,1175.5 950.7,1172.7 948.5,1170.0 946.1,1167.6 943.6,1165.2 941.0,1163.0 938.4,1161.0 935.6,1159.1 932.7,1157.4 929.8,1155.9 926.7,1154.5 923.5,1153.2 920.1,1152.2 916.6,1151.3 912.9,1150.5 909.0,1149.9 904.8,1149.5 900.0,1149.3 893.4,1149.2 893.4,1149.2 893.4,1149.2 893.4,1149.2 893.4,1149.2 893.4,1149.2 880.4,1149.5 870.9,1150.5 862.4,1152.0 854.8,1154.2 847.7,1157.0 841.3,1160.4 835.5,1164.3 830.2,1168.9 825.5,1174.0 821.5,1179.7 818.0,1186.0 815.1,1192.8 812.9,1200.3 811.3,1208.5 810.3,1217.8 810.0,1230.4 810.0,1230.4 810.0,1230.5 810.0,1240.7 810.0,1242.6 810.8,1251.9 812.0,1260.1 813.7,1267.6 815.9,1274.5 818.5,1280.8 821.6,1286.6 825.2,1291.8 829.2,1296.5 833.6,1300.5 838.5,1304.0 843.7,1306.8 849.5,1309.0 855.8,1310.6 862.9,1311.6 872.3,1311.9 875.2,1311.8 878.1,1311.6 881.0,1311.2 883.8,1310.7 886.7,1310.0 889.4,1309.2 892.1,1308.2 894.8,1307.1 897.3,1305.8 899.8,1304.5 902.2,1302.9 904.4,1301.3 906.5,1299.5 908.5,1297.7 910.4,1295.6 912.1,1293.5 913.7,1291.3 915.0,1288.9 915.0,1317.4 915.0,1322.8 914.7,1327.0 914.2,1330.8 913.5,1334.2 912.7,1337.4 911.7,1340.4 910.5,1343.1 909.1,1345.5 907.6,1347.7 905.9,1349.6 904.0,1351.2 902.0,1352.5 899.8,1353.5 897.4,1354.3 894.8,1354.7 891.3,1354.9 888.8,1354.8 886.6,1354.5 884.5,1354.1 882.6,1353.4 880.7,1352.6 879.0,1351.6 877.4,1350.4 876.0,1349.1 874.7,1347.6 873.6,1346.0 872.6,1344.3 871.8,1342.4 871.1,1340.4 870.7,1338.3 870.4,1336.0 870.3,1333.4 870.3,1329.4 810.0,1329.4 810.0,1334.4 810.0,1335.4 810.0,1335.4 810.3,1343.7 811.4,1351.1 813.1,1357.9 813.9,1360.0 782.3,1360.0 782.3,1397.5 797.3,1397.5 797.2,1399.3 797.1,1401.0 796.8,1402.7 796.5,1404.2 796.0,1405.7 795.5,1407.1 794.8,1408.4 794.0,1409.6 793.2,1410.7 792.2,1411.7 791.1,1412.6 790.0,1413.4 788.7,1414.1 787.3,1414.7 785.8,1415.2 784.3,1415.6 782.6,1415.9 780.8,1416.0 780.8,1435.3 785.0,1435.0 789.0,1434.5 792.8,1433.8 796.3,1432.7 799.6,1431.5 802.7,1430.0 805.6,1428.3 808.2,1426.5 810.5,1424.3 812.7,1422.1 814.6,1419.6 816.2,1416.9 817.6,1414.1 818.7,1411.1 819.6,1407.9 820.3,1404.6 820.7,1401.1 820.8,1397.5 820.8,1373.3 822.1,1375.2 826.4,1380.1 831.3,1384.5 836.8,1388.5 842.8,1391.9 849.4,1394.9 856.6,1397.3 864.3,1399.2 872.7,1400.6 881.9,1401.4 893.4,1401.7 893.4,1401.7 893.4,1401.7 893.5,1401.7 893.5,1401.7 893.5,1401.7 900.0,1401.6 904.8,1401.4 909.0,1401.0 912.9,1400.4 916.6,1399.6 920.1,1398.7 923.5,1397.7 926.7,1396.4 929.8,1395.0 932.7,1393.5 935.6,1391.8 938.4,1389.9 941.0,1387.9 943.6,1385.7 946.1,1383.3 948.5,1380.9 950.7,1378.2 952.9,1375.4 955.0,1372.5 957.0,1369.5 958.9,1366.2 960.8,1362.9 962.5,1359.4 964.1,1355.8 965.7,1352.0 967.1,1348.1 968.4,1344.1 969.7,1339.9 970.8,1335.6 970.8,1335.6 971.8,1344.4 973.4,1352.3 975.6,1359.5 978.5,1366.2 982.0,1372.3 986.1,1377.8 990.7,1382.8 996.0,1387.3 1001.8,1391.2 1008.1,1394.5 1015.1,1397.2 1022.6,1399.4 1030.9,1400.9 1040.2,1401.8 1052.5,1402.1 1064.8,1401.8 1074.1,1400.9 1082.4,1399.4 1089.9,1397.2 1096.9,1394.5 1103.2,1391.2 1109.0,1387.3 1114.3,1382.8 1118.9,1377.8 1123.0,1372.3 1126.5,1366.2 1129.4,1359.5 1131.6,1352.3 1133.2,1344.4 1134.2,1335.5 1134.5,1323.7 1134.5,1322.1 1134.4,1320.4 1134.3,1318.7 1134.1,1317.1 1133.9,1315.4 1133.7,1313.7 1133.4,1312.1 1133.1,1310.4 1132.7,1308.8 1132.4,1307.2 1131.9,1305.6 1131.4,1304.0 1130.9,1302.4 1130.4,1300.8 1129.8,1299.2 1129.2,1297.7 1128.5,1296.1 1127.8,1294.6 1127.1,1293.1 1126.2,1291.7 1125.4,1290.2 1124.5,1288.8 1123.6,1287.4 1122.6,1286.1 1121.5,1284.8 1120.5,1283.5 1119.3,1282.2 1118.2,1281.0 1116.9,1279.9 1115.7,1278.8 1114.4,1277.8 1113.0,1276.8 1111.7,1275.9 1110.2,1275.0 1108.8,1274.2 1107.3,1273.4 1105.8,1272.7 1104.3,1272.0 1102.8,1271.2 1101.3,1270.5 1102.5,1269.4 1103.6,1268.3 1104.8,1267.2 1105.9,1266.1 1107.0,1265.0 1108.1,1263.8 1109.2,1262.7 1110.3,1261.5 1111.4,1260.3 1112.4,1259.1 1113.4,1257.8 1114.4,1256.5 1115.3,1255.2 1116.2,1253.9 1117.1,1252.6 1117.9,1251.2 1118.7,1249.8 1119.5,1248.4 1120.2,1247.0 1120.9,1245.6 1121.5,1244.1 1122.1,1242.6 1122.7,1241.1 1123.2,1239.6 1123.7,1238.1 1124.2,1236.5 1124.6,1235.0 1125.0,1233.4 1125.3,1231.9 1125.6,1230.3 1125.9,1228.7 1126.2,1227.1 1126.4,1225.5 1126.6,1223.9 1126.7,1222.4 1126.9,1220.8 1127.0,1219.2 1127.1,1217.6 1127.1,1216.0 1127.1,1214.4 1126.8,1204.5 1125.9,1197.0 1124.5,1190.4 1122.4,1184.3 1119.8,1178.8 1116.7,1173.6 1113.0,1169.0 1108.7,1164.8 1104.0,1161.0 1098.7,1157.8 1092.9,1155.0 1086.6,1152.7 1079.7,1150.9 1072.2,1149.6 1063.7,1148.8 1052.5,1148.6 1041.3,1148.8 1032.8,1149.6 1025.3,1150.9 1018.4,1152.7 1012.1,1155.0ZM1072.0,1340.1 1071.5,1342.1 1070.9,1343.9 1070.2,1345.6 1069.4,1347.2 1068.5,1348.6 1067.5,1349.8 1066.4,1351.0 1065.3,1352.0 1064.0,1352.8 1062.6,1353.5 1061.2,1354.1 1059.5,1354.6 1057.7,1354.9 1055.6,1355.1 1052.5,1355.2 1049.4,1355.1 1047.3,1354.9 1045.5,1354.6 1043.8,1354.1 1042.4,1353.5 1041.0,1352.8 1039.7,1352.0 1038.6,1351.0 1037.5,1349.8 1036.5,1348.6 1035.6,1347.2 1034.8,1345.6 1034.1,1343.9 1033.5,1342.1 1033.0,1340.1 1032.6,1337.9 1032.2,1335.4 1032.0,1332.7 1031.9,1329.4 1031.8,1324.0 1031.9,1318.6 1032.0,1315.3 1032.2,1312.6 1032.6,1310.1 1033.0,1307.9 1033.5,1305.9 1034.1,1304.1 1034.8,1302.4 1035.6,1300.8 1036.5,1299.4 1037.5,1298.2 1038.6,1297.0 1039.7,1296.0 1041.0,1295.2 1042.4,1294.5 1043.8,1293.9 1045.5,1293.4 1047.3,1293.1 1049.4,1292.9 1052.5,1292.8 1055.6,1292.9 1057.7,1293.1 1059.5,1293.4 1061.2,1293.9 1062.6,1294.5 1064.0,1295.2 1065.3,1296.0 1066.4,1297.0 1067.5,1298.2 1068.5,1299.4 1069.4,1300.8 1070.2,1302.4 1070.9,1304.1 1071.5,1305.9 1072.0,1307.9 1072.4,1310.1 1072.8,1312.6 1073.0,1315.3 1073.1,1318.6 1073.2,1324.0 1073.1,1329.4 1073.0,1332.7 1072.8,1335.4 1072.4,1337.9ZM1069.4,1237.3 1068.8,1238.9 1068.2,1240.4 1067.5,1241.7 1066.7,1242.9 1065.9,1244.0 1064.9,1245.0 1063.9,1245.9 1062.7,1246.6 1061.5,1247.3 1060.2,1247.8 1058.8,1248.2 1057.2,1248.5 1055.3,1248.6 1052.5,1248.7 1049.7,1248.6 1047.8,1248.5 1046.2,1248.2 1044.8,1247.8 1043.5,1247.3 1042.3,1246.6 1041.1,1245.9 1040.1,1245.0 1039.1,1244.0 1038.3,1242.9 1037.5,1241.7 1036.8,1240.4 1036.2,1238.9 1035.6,1237.3 1035.2,1235.5 1034.8,1233.6 1034.5,1231.5 1034.3,1229.1 1034.2,1226.2 1034.1,1221.5 1034.2,1216.8 1034.3,1213.9 1034.5,1211.5 1034.8,1209.4 1035.2,1207.5 1035.6,1205.7 1036.2,1204.1 1036.8,1202.6 1037.5,1201.3 1038.3,1200.1 1039.1,1199.0 1040.1,1198.0 1041.1,1197.1 1042.3,1196.4 1043.5,1195.7 1044.8,1195.2 1046.2,1194.8 1047.8,1194.5 1049.7,1194.4 1052.5,1194.3 1055.3,1194.4 1057.2,1194.5 1058.8,1194.8 1060.2,1195.2 1061.5,1195.7 1062.7,1196.4 1063.9,1197.1 1064.9,1198.0 1065.9,1199.0 1066.7,1200.1 1067.5,1201.3 1068.2,1202.6 1068.8,1204.1 1069.4,1205.7 1069.8,1207.5 1070.2,1209.4 1070.5,1211.5 1070.7,1213.9 1070.8,1216.8 1070.9,1221.5 1070.8,1226.2 1070.7,1229.1 1070.5,1231.5 1070.2,1233.6 1069.8,1235.5ZM871.9,1212.9 872.4,1210.7 873.0,1208.7 873.6,1206.8 874.4,1205.1 875.3,1203.6 876.2,1202.2 877.2,1201.0 878.4,1199.9 879.6,1199.0 880.9,1198.2 882.3,1197.5 883.8,1197.0 885.5,1196.7 887.4,1196.5 890.2,1196.4 892.9,1196.5 894.8,1196.7 896.5,1197.0 898.0,1197.5 899.4,1198.2 900.7,1199.0 901.9,1199.9 903.1,1201.0 904.1,1202.2 905.0,1203.6 905.9,1205.1 906.7,1206.8 907.3,1208.7 907.9,1210.7 908.4,1212.9 908.8,1215.3 909.2,1218.1 909.4,1221.2 909.5,1224.9 909.6,1231.3 909.5,1237.7 909.4,1241.4 909.2,1244.5 908.8,1247.3 908.4,1249.7 907.9,1251.9 907.3,1253.9 906.7,1255.8 905.9,1257.5 905.0,1259.0 904.1,1260.4 903.1,1261.6 901.9,1262.7 900.7,1263.6 899.4,1264.4 898.0,1265.1 896.5,1265.6 894.8,1265.9 892.9,1266.1 890.2,1266.2 887.4,1266.1 885.5,1265.9 883.8,1265.6 882.3,1265.1 880.9,1264.4 879.6,1263.6 878.4,1262.7 877.2,1261.6 876.2,1260.4 875.3,1259.0 874.4,1257.5 873.6,1255.8 873.0,1253.9 872.4,1251.9 871.9,1249.7 871.5,1247.3 871.1,1244.5 870.9,1241.4 870.8,1237.7 870.7,1231.3 870.8,1224.9 870.9,1221.2 871.1,1218.1 871.5,1215.3ZM722.9,1161.6 718.9,1165.3 714.9,1168.7 710.9,1171.8 706.8,1174.8 702.7,1177.4 698.7,1179.9 694.5,1182.1 690.4,1184.1 686.2,1185.8 682.0,1187.3 677.8,1188.6 673.6,1189.6 673.6,1245.0 677.1,1244.0 680.6,1243.0 683.9,1241.9 687.3,1240.7 690.5,1239.5 693.8,1238.2 696.9,1236.8 700.0,1235.4 703.0,1233.9 706.0,1232.4 708.9,1230.8 711.8,1229.2 714.6,1227.5 717.3,1225.7 717.3,1397.5 779.2,1397.5 779.2,1153.6 730.8,1153.6 726.8,1157.7ZM582.5,1295.6 583.0,1294.0 583.5,1292.5 584.3,1291.1 585.2,1289.7 586.2,1288.5 587.4,1287.4 588.8,1286.4 590.2,1285.5 591.8,1284.8 593.5,1284.1 595.3,1283.6 597.2,1283.3 599.3,1283.1 601.6,1283.0 605.0,1283.1 607.4,1283.5 609.4,1284.1 611.3,1284.9 613.0,1286.0 614.5,1287.4 615.9,1288.9 617.1,1290.7 618.3,1292.7 619.2,1295.0 620.0,1297.5 620.7,1300.2 621.2,1303.3 621.6,1306.6 621.8,1310.5 621.9,1316.0 621.8,1322.3 621.6,1326.7 621.3,1330.5 620.8,1334.0 620.1,1337.1 619.4,1339.9 618.5,1342.5 617.4,1344.8 616.2,1346.8 614.9,1348.6 613.5,1350.1 611.9,1351.4 610.1,1352.3 608.2,1353.0 605.9,1353.5 602.7,1353.6 600.0,1353.5 597.8,1353.1 595.7,1352.5 593.8,1351.7 592.0,1350.6 590.4,1349.3 588.9,1347.8 587.5,1346.1 586.3,1344.2 585.2,1342.1 584.3,1339.8 583.6,1337.3 583.0,1334.6 582.5,1331.8 582.3,1328.6 582.2,1324.8 521.2,1324.8 521.5,1336.8 522.5,1345.7 524.0,1353.5 526.2,1360.6 529.0,1367.0 532.4,1373.0 536.4,1378.4 540.9,1383.2 546.1,1387.5 551.8,1391.3 558.0,1394.5 564.9,1397.2 572.4,1399.2 580.7,1400.7 590.0,1401.6 602.7,1401.9 615.5,1401.6 624.9,1400.6 633.1,1398.9 640.7,1396.6 647.6,1393.7 653.9,1390.1 659.6,1385.9 664.8,1381.1 669.4,1375.7 673.4,1369.7 676.8,1363.1 679.6,1355.8 681.8,1347.9 683.3,1339.2 684.3,1329.4 684.6,1316.0 684.4,1303.7 683.7,1294.7 682.5,1286.7 680.9,1279.4 678.8,1272.8 676.2,1266.7 673.2,1261.2 669.8,1256.2 666.0,1251.8 661.7,1247.9 657.0,1244.6 651.9,1241.9 646.3,1239.8 640.1,1238.3 633.1,1237.4 623.6,1237.1 620.5,1237.2 617.4,1237.3 614.5,1237.6 611.6,1238.0 608.8,1238.5 606.2,1239.1 603.7,1239.8 601.3,1240.6 599.0,1241.5 596.8,1242.5 594.8,1243.6 593.0,1244.8 591.3,1246.1 589.8,1247.5 588.5,1248.9 587.3,1250.5 586.4,1252.1 585.6,1253.8 591.8,1205.3 671.6,1205.3 671.6,1153.5 546.3,1153.5 529.2,1295.6 582.2,1299.3 582.3,1297.3ZM468.7,1211.2 466.8,1214.1 464.9,1217.0 463.1,1219.9 461.4,1222.8 459.6,1225.8 457.9,1228.7 456.2,1231.7 454.5,1234.7 452.9,1237.7 451.2,1240.7 449.5,1243.7 447.9,1246.7 446.3,1249.8 444.7,1252.8 443.2,1255.9 441.7,1259.0 440.3,1262.1 438.8,1265.2 437.4,1268.3 436.1,1271.5 434.7,1274.6 433.4,1277.8 432.1,1281.0 430.9,1284.2 429.6,1287.4 428.5,1290.6 427.3,1293.8 426.2,1297.1 425.2,1300.3 424.2,1303.6 423.2,1306.9 422.2,1310.2 421.2,1313.4 420.2,1316.7 419.2,1320.0 418.3,1323.3 417.3,1326.6 416.4,1329.9 415.6,1333.2 414.7,1336.6 413.9,1339.9 413.2,1343.2 412.4,1346.6 411.7,1349.9 411.0,1353.3 410.3,1356.6 409.6,1360.0 409.0,1363.4 408.4,1366.8 407.9,1370.1 407.4,1373.5 407.0,1376.9 406.6,1380.3 406.3,1383.8 406.0,1387.2 405.9,1390.6 405.8,1394.0 405.8,1397.5 474.3,1397.5 474.3,1393.9 474.5,1390.4 474.6,1386.8 474.9,1383.3 475.2,1379.7 475.5,1376.2 475.9,1372.6 476.4,1369.1 476.9,1365.6 477.4,1362.0 478.0,1358.5 478.7,1355.0 479.4,1351.5 480.1,1348.0 480.9,1344.6 481.7,1341.1 482.5,1337.6 483.3,1334.2 484.1,1330.7 484.9,1327.2 485.7,1323.7 486.6,1320.3 487.4,1316.8 488.3,1313.4 489.3,1310.0 490.3,1306.6 491.4,1303.2 492.5,1299.8 493.7,1296.4 494.8,1293.0 496.0,1289.7 497.2,1286.3 498.3,1282.9 499.5,1279.6 500.7,1276.2 502.0,1272.9 503.2,1269.6 504.5,1266.2 505.8,1262.9 507.1,1259.6 508.5,1256.3 509.8,1253.0 511.3,1249.8 512.7,1246.5 514.2,1243.3 515.7,1240.0 517.2,1236.8 518.7,1233.6 520.3,1230.4 521.8,1227.2 523.4,1224.0 525.0,1220.8 526.6,1217.6 528.2,1214.4 529.9,1211.3 531.6,1208.1 533.3,1205.0 535.0,1201.9 536.7,1198.8 538.5,1195.7 538.5,1154.2 384.7,1154.2 384.7,1205.6 472.6,1205.6 470.6,1208.4ZM378.3,1399.3 378.2,1401.0 377.9,1402.7 377.6,1404.2 377.1,1405.7 376.6,1407.1 375.9,1408.4 375.1,1409.6 374.3,1410.7 373.3,1411.7 372.2,1412.6 371.1,1413.4 369.8,1414.1 368.4,1414.7 366.9,1415.2 365.4,1415.6 363.7,1415.9 361.9,1416.0 361.9,1435.3 366.1,1435.0 370.1,1434.5 373.9,1433.8 377.4,1432.7 380.7,1431.5 383.8,1430.0 386.7,1428.3 389.3,1426.5 391.6,1424.3 393.8,1422.1 395.7,1419.6 397.3,1416.9 398.7,1414.1 399.8,1411.1 400.7,1407.9 401.4,1404.6 401.8,1401.1 401.9,1397.5 401.9,1360.0 363.4,1360.0 363.4,1397.5 378.4,1397.5ZM264.1,1218.2 264.3,1215.8 264.8,1213.6 265.4,1211.5 266.1,1209.6 267.0,1207.8 268.1,1206.1 269.3,1204.6 270.7,1203.2 272.2,1202.0 273.8,1200.9 275.5,1200.1 277.4,1199.4 279.3,1198.9 281.4,1198.6 283.8,1198.5 286.0,1198.6 287.8,1198.9 289.6,1199.3 291.2,1199.9 292.7,1200.6 294.2,1201.5 295.5,1202.6 296.7,1203.8 297.8,1205.2 298.8,1206.6 299.6,1208.2 300.3,1210.0 300.8,1211.8 301.2,1213.7 301.4,1215.8 301.5,1218.2 301.4,1222.8 301.1,1227.4 300.3,1231.9 299.1,1236.3 297.2,1240.6 294.8,1244.5 292.0,1248.3 288.9,1251.7 285.5,1254.8 281.9,1257.7 278.2,1260.3 274.4,1262.9 270.6,1265.5 266.7,1268.0 263.0,1270.7 259.3,1273.4 255.7,1276.3 252.1,1279.1 248.6,1282.1 245.1,1285.1 241.6,1288.1 238.2,1291.2 234.9,1294.4 231.6,1297.6 228.4,1300.9 225.3,1304.3 222.3,1307.8 219.6,1311.5 217.0,1315.3 214.7,1319.3 212.5,1323.4 210.7,1327.6 209.1,1332.0 207.8,1336.4 206.8,1340.9 206.0,1345.4 205.5,1350.0 205.2,1354.6 205.1,1359.2 205.0,1363.8 205.0,1397.5 360.3,1397.5 360.3,1347.0 270.5,1347.0 271.5,1343.1 272.7,1339.2 274.0,1335.4 275.6,1331.8 277.6,1328.3 279.9,1325.0 282.4,1321.8 285.2,1318.8 288.1,1316.0 291.2,1313.3 294.4,1310.8 297.6,1308.4 300.9,1306.0 304.2,1303.8 307.5,1301.5 310.9,1299.3 314.2,1297.1 317.5,1294.8 320.8,1292.4 324.1,1290.0 327.3,1287.5 330.3,1284.9 333.3,1282.2 336.2,1279.4 339.0,1276.4 341.6,1273.4 344.1,1270.2 346.4,1266.9 348.5,1263.4 350.5,1259.9 352.3,1256.3 353.9,1252.5 355.3,1248.7 356.5,1244.9 357.5,1240.9 358.3,1237.0 358.9,1233.0 359.4,1229.0 359.6,1224.9 359.7,1220.9 359.4,1210.9 358.5,1203.0 356.9,1195.8 354.7,1189.2 351.9,1183.0 348.5,1177.3 344.5,1172.1 340.0,1167.4 334.9,1163.1 329.3,1159.5 323.2,1156.3 316.5,1153.7 309.4,1151.6 301.6,1150.2 293.1,1149.3 282.4,1149.0 271.9,1149.3 263.6,1150.2 256.1,1151.7 249.1,1153.8 242.6,1156.5 236.7,1159.7 231.2,1163.5 226.3,1167.8 221.8,1172.7 218.0,1178.0 214.7,1183.8 211.9,1190.2 209.8,1197.0 208.2,1204.4 207.3,1212.5 207.0,1222.7 206.8,1230.5 263.8,1230.5 264.0,1220.9ZM204.8,1208.3 204.4,1206.1 204.0,1204.0 203.4,1201.9 202.8,1199.8 202.1,1197.8 201.2,1195.7 200.3,1193.8 199.3,1191.8 198.2,1189.9 197.0,1188.1 195.8,1186.3 194.5,1184.6 193.0,1182.9 191.6,1181.3 190.0,1179.8 188.4,1178.4 186.7,1176.9 185.0,1175.6 183.3,1174.3 181.4,1173.1 179.6,1171.9 177.7,1170.8 175.8,1169.8 173.8,1168.8 171.9,1167.9 169.8,1167.1 167.8,1166.4 165.7,1165.7 163.6,1165.1 161.5,1164.6 159.4,1164.2 157.3,1163.8 155.1,1163.5 153.1,1163.3 153.1,1147.4 142.2,1147.4 142.2,1163.2 142.1,1163.2 139.9,1163.3 137.7,1163.5 135.6,1163.8 133.4,1164.1 131.3,1164.5 129.2,1165.0 127.1,1165.6 125.0,1166.2 122.9,1166.8 120.9,1167.6 118.9,1168.4 116.9,1169.4 114.9,1170.4 113.1,1171.4 111.2,1172.6 109.4,1173.9 107.7,1175.2 106.0,1176.6 104.4,1178.1 102.9,1179.6 101.4,1181.3 100.0,1182.9 98.8,1184.7 97.5,1186.5 96.4,1188.4 95.4,1190.3 94.4,1192.3 93.5,1194.3 92.8,1196.3 92.1,1198.3 91.5,1200.4 90.9,1202.5 90.5,1204.7 90.1,1206.8 89.8,1209.0 89.6,1211.1 89.4,1213.3 89.3,1215.5 89.3,1217.7 89.4,1219.9 89.5,1222.1 89.8,1224.3 90.1,1226.4 90.6,1228.5 91.2,1230.6 91.9,1232.7 92.8,1234.7 93.8,1236.6 94.9,1238.5 96.1,1240.3 97.4,1242.1 98.8,1243.8 100.3,1245.4 101.9,1246.9 103.6,1248.3 105.3,1249.7 107.0,1250.9 108.9,1252.1 110.7,1253.2 112.6,1254.3 114.6,1255.3 116.6,1256.2 118.6,1257.1 120.6,1257.9 122.6,1258.7 124.7,1259.4 126.7,1260.1 128.8,1260.8 130.9,1261.4 132.9,1262.0 135.0,1262.6 137.1,1263.2 139.2,1263.8 141.3,1264.4 142.2,1264.7 142.2,1298.0 141.5,1297.9 139.4,1297.2 137.4,1296.3 135.5,1295.3 133.8,1294.0 132.3,1292.4 130.9,1290.7 129.8,1288.8 128.9,1286.8 128.2,1284.7 127.8,1282.6 127.5,1280.4 127.4,1278.2 127.3,1276.1 85.3,1276.1 85.4,1278.2 85.5,1280.4 85.7,1282.6 86.0,1284.8 86.4,1286.9 86.9,1289.1 87.4,1291.2 88.1,1293.3 88.8,1295.4 89.6,1297.4 90.5,1299.4 91.5,1301.4 92.5,1303.3 93.6,1305.2 94.8,1307.1 96.1,1308.9 97.5,1310.6 98.9,1312.3 100.4,1313.9 101.9,1315.5 103.5,1317.0 105.2,1318.4 106.9,1319.8 108.7,1321.1 110.5,1322.3 112.4,1323.5 114.3,1324.5 116.3,1325.5 118.3,1326.5 120.3,1327.3 122.4,1328.1 124.4,1328.8 126.5,1329.4 128.7,1330.0 130.8,1330.5 133.0,1330.9 135.1,1331.3 137.3,1331.6 139.5,1331.9 141.6,1332.1 142.2,1332.2 142.2,1348.6 153.1,1348.6 153.1,1332.4 154.8,1332.3 156.9,1332.2 159.1,1331.9 161.3,1331.6 163.4,1331.2 165.6,1330.8 167.7,1330.2 169.8,1329.6 171.9,1328.9 174.0,1328.2 176.0,1327.4 178.0,1326.5 180.0,1325.5 181.9,1324.5 183.8,1323.3 185.6,1322.1 187.4,1320.9 189.2,1319.6 190.9,1318.2 192.5,1316.7 194.1,1315.2 195.6,1313.6 197.0,1311.9 198.4,1310.2 199.7,1308.5 200.9,1306.6 202.1,1304.8 203.2,1302.9 204.1,1300.9 205.0,1298.9 205.8,1296.8 206.5,1294.8 207.1,1292.6 207.7,1290.5 208.1,1288.3 208.3,1286.1 208.5,1284.0 208.5,1281.8 208.4,1279.6 208.2,1277.4 207.8,1275.3 207.3,1273.1 206.8,1271.0 206.2,1268.9 205.6,1266.8 204.9,1264.7 204.1,1262.6 203.3,1260.6 202.3,1258.6 201.3,1256.7 200.3,1254.8 199.1,1252.9 197.9,1251.1 196.6,1249.3 195.2,1247.6 193.7,1246.0 192.1,1244.4 190.5,1242.9 188.9,1241.4 187.1,1240.1 185.3,1238.9 183.5,1237.7 181.6,1236.6 179.6,1235.6 177.6,1234.7 175.6,1233.9 173.6,1233.1 171.5,1232.4 169.4,1231.7 167.3,1231.0 165.2,1230.3 163.1,1229.7 161.0,1229.1 158.9,1228.5 156.8,1228.1 154.6,1227.7 153.1,1227.5 153.1,1196.9 153.2,1196.9 155.2,1197.7 157.1,1198.8 158.8,1200.3 160.2,1202.1 161.3,1204.0 162.1,1206.0 162.7,1208.1 162.9,1210.3 163.0,1212.5 163.0,1214.7 163.0,1216.9 205.4,1216.9 205.4,1214.7 205.3,1212.6 205.1,1210.4ZM159.1,1272.2 160.7,1273.7 162.1,1275.4 163.3,1277.2 164.2,1279.2 164.9,1281.3 165.2,1283.5 165.3,1285.7 165.0,1287.9 164.3,1290.0 163.3,1291.9 162.0,1293.7 160.4,1295.2 158.6,1296.6 156.6,1297.6 154.5,1298.4 153.1,1298.8 153.1,1268.5 153.6,1268.7 155.5,1269.7 157.4,1270.9ZM136.5,1221.8 135.1,1219.9 133.9,1218.0 133.0,1216.0 132.3,1213.8 132.0,1211.7 131.9,1209.5 132.1,1207.3 132.7,1205.1 133.6,1203.0 134.8,1201.2 136.3,1199.6 138.2,1198.4 140.2,1197.5 142.2,1196.9 142.2,1226.0 141.7,1225.8 139.8,1224.7 138.0,1223.4Z"/>
<path fill="#88C3BE" fill-rule="evenodd" d="M1295.7,1299.3 1295.7,1334.3 1325.5,1334.3 1325.5,1299.3 1358.6,1299.3 1358.6,1269.6 1325.5,1269.6 1325.5,1234.4 1295.7,1234.4 1295.7,1269.6 1261.8,1269.6 1261.8,1299.3ZM1211.0,1211.2 1209.1,1214.1 1207.2,1217.0 1205.4,1219.9 1203.7,1222.8 1201.9,1225.8 1200.2,1228.7 1198.5,1231.7 1196.8,1234.7 1195.2,1237.7 1193.5,1240.7 1191.8,1243.7 1190.2,1246.7 1188.6,1249.8 1187.0,1252.8 1185.5,1255.9 1184.0,1259.0 1182.6,1262.1 1181.1,1265.2 1179.7,1268.3 1178.4,1271.5 1177.0,1274.6 1175.7,1277.8 1174.4,1281.0 1173.2,1284.2 1171.9,1287.4 1170.8,1290.6 1169.6,1293.8 1168.5,1297.1 1167.5,1300.3 1166.5,1303.6 1165.5,1306.9 1164.5,1310.2 1163.5,1313.4 1162.5,1316.7 1161.5,1320.0 1160.6,1323.3 1159.6,1326.6 1158.7,1329.9 1157.9,1333.2 1157.0,1336.6 1156.2,1339.9 1155.5,1343.2 1154.7,1346.6 1154.0,1349.9 1153.3,1353.3 1152.6,1356.6 1151.9,1360.0 1151.3,1363.4 1150.7,1366.8 1150.2,1370.1 1149.7,1373.5 1149.3,1376.9 1148.9,1380.3 1148.6,1383.8 1148.3,1387.2 1148.2,1390.6 1148.1,1394.0 1148.1,1397.5 1216.6,1397.5 1216.6,1393.9 1216.8,1390.4 1216.9,1386.8 1217.2,1383.3 1217.5,1379.7 1217.8,1376.2 1218.2,1372.6 1218.7,1369.1 1219.2,1365.6 1219.7,1362.0 1220.3,1358.5 1221.0,1355.0 1221.7,1351.5 1222.4,1348.0 1223.2,1344.6 1224.0,1341.1 1224.8,1337.6 1225.6,1334.2 1226.4,1330.7 1227.2,1327.2 1228.0,1323.7 1228.9,1320.3 1229.7,1316.8 1230.6,1313.4 1231.6,1310.0 1232.6,1306.6 1233.7,1303.2 1234.8,1299.8 1236.0,1296.4 1237.1,1293.0 1238.3,1289.7 1239.5,1286.3 1240.6,1282.9 1241.8,1279.6 1243.0,1276.2 1244.3,1272.9 1245.5,1269.6 1246.8,1266.2 1248.1,1262.9 1249.4,1259.6 1250.8,1256.3 1252.1,1253.0 1253.6,1249.8 1255.0,1246.5 1256.5,1243.3 1258.0,1240.0 1259.5,1236.8 1261.0,1233.6 1262.6,1230.4 1264.1,1227.2 1265.7,1224.0 1267.3,1220.8 1268.9,1217.6 1270.5,1214.4 1272.2,1211.3 1273.9,1208.1 1275.6,1205.0 1277.3,1201.9 1279.0,1198.8 1280.8,1195.7 1280.8,1154.2 1127.0,1154.2 1127.0,1205.6 1214.9,1205.6 1212.9,1208.4ZM1001.0,1161.0 996.3,1164.8 992.0,1169.0 988.3,1173.6 985.2,1178.8 982.6,1184.3 980.5,1190.4 979.1,1197.0 978.2,1204.5 977.9,1214.4 977.9,1216.0 977.9,1217.6 978.0,1219.2 978.1,1220.8 978.3,1222.4 978.4,1223.9 978.6,1225.5 978.8,1227.1 979.1,1228.7 979.4,1230.3 979.7,1231.9 980.0,1233.4 980.4,1235.0 980.8,1236.5 981.3,1238.1 981.8,1239.6 982.3,1241.1 982.9,1242.6 983.5,1244.1 984.1,1245.6 984.8,1247.0 985.5,1248.4 986.3,1249.8 987.1,1251.2 987.9,1252.6 988.8,1253.9 989.7,1255.2 990.6,1256.5 991.6,1257.8 992.6,1259.1 993.6,1260.3 994.7,1261.5 995.8,1262.7 996.9,1263.8 998.0,1265.0 999.1,1266.1 1000.2,1267.2 1001.4,1268.3 1002.5,1269.4 1003.7,1270.5 1002.2,1271.2 1000.7,1272.0 999.2,1272.7 997.7,1273.4 996.2,1274.2 994.8,1275.0 993.3,1275.9 992.0,1276.8 990.6,1277.8 989.3,1278.8 988.1,1279.9 986.8,1281.0 985.7,1282.2 984.5,1283.5 983.5,1284.8 982.4,1286.1 981.4,1287.4 980.5,1288.8 979.6,1290.2 978.8,1291.7 977.9,1293.1 977.2,1294.6 976.5,1296.1 976.4,1296.3 976.4,1295.9 976.7,1289.9 976.8,1283.5 976.9,1275.4 976.8,1267.4 976.7,1261.0 976.4,1255.0 976.1,1249.4 975.6,1244.0 975.1,1238.8 974.4,1233.8 973.7,1229.0 972.8,1224.3 971.9,1219.7 970.8,1215.3 969.7,1211.0 968.4,1206.8 967.1,1202.8 965.7,1198.9 964.1,1195.1 962.5,1191.5 960.8,1188.0 958.9,1184.7 957.0,1181.4 955.0,1178.4 952.9,1175.5 952.5,1174.8 909.2,1218.1 909.4,1221.2 909.5,1224.9 909.6,1231.3 909.5,1237.7 909.4,1241.4 909.2,1244.5 908.8,1247.3 908.4,1249.7 907.9,1251.9 907.3,1253.9 906.7,1255.8 905.9,1257.5 905.0,1259.0 904.1,1260.4 903.1,1261.6 901.9,1262.7 900.7,1263.6 899.4,1264.4 898.0,1265.1 896.5,1265.6 894.8,1265.9 892.9,1266.1 890.2,1266.2 887.4,1266.1 885.5,1265.9 883.8,1265.6 882.3,1265.1 880.9,1264.4 879.6,1263.6 878.4,1262.7 877.2,1261.6 876.2,1260.4 875.3,1259.0 874.4,1257.5 873.6,1255.8 873.1,1254.2 830.1,1297.2 833.6,1300.5 838.5,1304.0 843.7,1306.8 849.5,1309.0 855.8,1310.6 862.9,1311.6 872.3,1311.9 875.2,1311.8 878.1,1311.6 881.0,1311.2 883.8,1310.7 886.7,1310.0 889.4,1309.2 892.1,1308.2 894.8,1307.1 897.3,1305.8 899.8,1304.5 902.2,1302.9 904.4,1301.3 906.5,1299.5 908.5,1297.7 910.4,1295.6 912.1,1293.5 913.7,1291.3 915.0,1288.9 915.0,1317.4 915.0,1322.8 914.7,1327.0 914.2,1330.8 913.5,1334.2 912.7,1337.4 911.7,1340.4 910.5,1343.1 909.1,1345.5 907.6,1347.7 905.9,1349.6 904.0,1351.2 902.0,1352.5 899.8,1353.5 897.4,1354.3 894.8,1354.7 891.3,1354.9 888.8,1354.8 886.6,1354.5 884.5,1354.1 882.6,1353.4 880.7,1352.6 879.0,1351.6 877.4,1350.4 876.0,1349.1 874.7,1347.6 873.6,1346.0 872.6,1344.3 871.8,1342.4 871.1,1340.4 870.7,1338.3 870.4,1336.0 870.3,1333.4 870.3,1329.4 810.0,1329.4 810.0,1334.4 810.0,1335.4 810.0,1335.4 810.3,1343.7 811.4,1351.1 813.1,1357.9 813.9,1360.0 782.3,1360.0 782.3,1397.5 797.3,1397.5 797.2,1399.3 797.1,1401.0 796.8,1402.7 796.5,1404.2 796.0,1405.7 795.5,1407.1 794.8,1408.4 794.0,1409.6 793.2,1410.7 792.2,1411.7 791.1,1412.6 790.0,1413.4 788.7,1414.1 787.3,1414.7 785.8,1415.2 784.3,1415.6 782.6,1415.9 780.8,1416.0 780.8,1435.3 785.0,1435.0 789.0,1434.5 792.8,1433.8 796.3,1432.7 799.6,1431.5 802.7,1430.0 805.6,1428.3 808.2,1426.5 810.5,1424.3 812.7,1422.1 814.6,1419.6 816.2,1416.9 817.6,1414.1 818.7,1411.1 819.6,1407.9 820.3,1404.6 820.7,1401.1 820.8,1397.5 820.8,1373.3 822.1,1375.2 826.4,1380.1 831.3,1384.5 836.8,1388.5 842.8,1391.9 849.4,1394.9 856.6,1397.3 864.3,1399.2 872.7,1400.6 881.9,1401.4 893.4,1401.7 893.4,1401.7 893.4,1401.7 893.5,1401.7 893.5,1401.7 893.5,1401.7 900.0,1401.6 904.8,1401.4 909.0,1401.0 912.9,1400.4 916.6,1399.6 920.1,1398.7 923.5,1397.7 926.7,1396.4 929.8,1395.0 932.7,1393.5 935.6,1391.8 938.4,1389.9 941.0,1387.9 943.6,1385.7 946.1,1383.3 948.5,1380.9 950.7,1378.2 952.9,1375.4 955.0,1372.5 957.0,1369.5 958.9,1366.2 960.8,1362.9 962.5,1359.4 964.1,1355.8 965.7,1352.0 967.1,1348.1 968.4,1344.1 969.7,1339.9 970.8,1335.6 970.8,1335.6 971.8,1344.4 973.4,1352.3 975.6,1359.5 978.5,1366.2 982.0,1372.3 986.1,1377.8 990.7,1382.8 996.0,1387.3 1001.8,1391.2 1008.1,1394.5 1015.1,1397.2 1022.6,1399.4 1030.9,1400.9 1040.2,1401.8 1052.5,1402.1 1064.8,1401.8 1074.1,1400.9 1082.4,1399.4 1089.9,1397.2 1096.9,1394.5 1103.2,1391.2 1109.0,1387.3 1114.3,1382.8 1118.9,1377.8 1123.0,1372.3 1126.5,1366.2 1129.4,1359.5 1131.6,1352.3 1133.2,1344.4 1134.2,1335.5 1134.5,1323.7 1134.5,1322.1 1134.4,1320.4 1134.3,1318.7 1134.1,1317.1 1133.9,1315.4 1133.7,1313.7 1133.4,1312.1 1133.1,1310.4 1132.7,1308.8 1132.4,1307.2 1131.9,1305.6 1131.4,1304.0 1130.9,1302.4 1130.4,1300.8 1129.8,1299.2 1129.2,1297.7 1128.5,1296.1 1127.8,1294.6 1127.1,1293.1 1126.2,1291.7 1125.4,1290.2 1124.5,1288.8 1123.6,1287.4 1122.6,1286.1 1121.5,1284.8 1120.5,1283.5 1119.3,1282.2 1118.2,1281.0 1116.9,1279.9 1115.7,1278.8 1114.4,1277.8 1113.0,1276.8 1111.7,1275.9 1110.2,1275.0 1108.8,1274.2 1107.3,1273.4 1105.8,1272.7 1104.3,1272.0 1102.8,1271.2 1101.3,1270.5 1102.5,1269.4 1103.6,1268.3 1104.8,1267.2 1105.9,1266.1 1107.0,1265.0 1108.1,1263.8 1109.2,1262.7 1110.3,1261.5 1111.4,1260.3 1112.4,1259.1 1113.4,1257.8 1114.4,1256.5 1115.3,1255.2 1116.2,1253.9 1117.1,1252.6 1117.9,1251.2 1118.7,1249.8 1119.5,1248.4 1120.2,1247.0 1120.9,1245.6 1121.5,1244.1 1122.1,1242.6 1122.7,1241.1 1123.2,1239.6 1123.7,1238.1 1124.2,1236.5 1124.6,1235.0 1125.0,1233.4 1125.3,1231.9 1125.6,1230.3 1125.9,1228.7 1126.2,1227.1 1126.4,1225.5 1126.6,1223.9 1126.7,1222.4 1126.9,1220.8 1127.0,1219.2 1127.1,1217.6 1127.1,1216.0 1127.1,1214.4 1126.8,1204.5 1125.9,1197.0 1124.5,1190.4 1122.4,1184.3 1119.8,1178.8 1116.7,1173.6 1113.0,1169.0 1108.7,1164.8 1104.0,1161.0 1098.7,1157.8 1092.9,1155.0 1086.6,1152.7 1079.7,1150.9 1072.2,1149.6 1063.7,1148.8 1052.5,1148.6 1041.3,1148.8 1032.8,1149.6 1025.3,1150.9 1018.4,1152.7 1012.1,1155.0 1006.3,1157.8ZM1071.5,1342.1 1070.9,1343.9 1070.2,1345.6 1069.4,1347.2 1068.5,1348.6 1067.5,1349.8 1066.4,1351.0 1065.3,1352.0 1064.0,1352.8 1062.6,1353.5 1061.2,1354.1 1059.5,1354.6 1057.7,1354.9 1055.6,1355.1 1052.5,1355.2 1049.4,1355.1 1047.3,1354.9 1045.5,1354.6 1043.8,1354.1 1042.4,1353.5 1041.0,1352.8 1039.7,1352.0 1038.6,1351.0 1037.5,1349.8 1036.5,1348.6 1035.6,1347.2 1034.8,1345.6 1034.1,1343.9 1033.5,1342.1 1033.0,1340.1 1032.6,1337.9 1032.2,1335.4 1032.0,1332.7 1031.9,1329.4 1031.8,1324.0 1031.9,1318.6 1032.0,1315.3 1032.2,1312.6 1032.6,1310.1 1033.0,1307.9 1033.5,1305.9 1034.1,1304.1 1034.8,1302.4 1035.6,1300.8 1036.5,1299.4 1037.5,1298.2 1038.6,1297.0 1039.7,1296.0 1041.0,1295.2 1042.4,1294.5 1043.8,1293.9 1045.5,1293.4 1047.3,1293.1 1049.4,1292.9 1052.5,1292.8 1055.6,1292.9 1057.7,1293.1 1059.5,1293.4 1061.2,1293.9 1062.6,1294.5 1064.0,1295.2 1065.3,1296.0 1066.4,1297.0 1067.5,1298.2 1068.5,1299.4 1069.4,1300.8 1070.2,1302.4 1070.9,1304.1 1071.5,1305.9 1072.0,1307.9 1072.4,1310.1 1072.8,1312.6 1073.0,1315.3 1073.1,1318.6 1073.2,1324.0 1073.1,1329.4 1073.0,1332.7 1072.8,1335.4 1072.4,1337.9 1072.0,1340.1ZM1068.8,1238.9 1068.2,1240.4 1067.5,1241.7 1066.7,1242.9 1065.9,1244.0 1064.9,1245.0 1063.9,1245.9 1062.7,1246.6 1061.5,1247.3 1060.2,1247.8 1058.8,1248.2 1057.2,1248.5 1055.3,1248.6 1052.5,1248.7 1049.7,1248.6 1047.8,1248.5 1046.2,1248.2 1044.8,1247.8 1043.5,1247.3 1042.3,1246.6 1041.1,1245.9 1040.1,1245.0 1039.1,1244.0 1038.3,1242.9 1037.5,1241.7 1036.8,1240.4 1036.2,1238.9 1035.6,1237.3 1035.2,1235.5 1034.8,1233.6 1034.5,1231.5 1034.3,1229.1 1034.2,1226.2 1034.1,1221.5 1034.2,1216.8 1034.3,1213.9 1034.5,1211.5 1034.8,1209.4 1035.2,1207.5 1035.6,1205.7 1036.2,1204.1 1036.8,1202.6 1037.5,1201.3 1038.3,1200.1 1039.1,1199.0 1040.1,1198.0 1041.1,1197.1 1042.3,1196.4 1043.5,1195.7 1044.8,1195.2 1046.2,1194.8 1047.8,1194.5 1049.7,1194.4 1052.5,1194.3 1055.3,1194.4 1057.2,1194.5 1058.8,1194.8 1060.2,1195.2 1061.5,1195.7 1062.7,1196.4 1063.9,1197.1 1064.9,1198.0 1065.9,1199.0 1066.7,1200.1 1067.5,1201.3 1068.2,1202.6 1068.8,1204.1 1069.4,1205.7 1069.8,1207.5 1070.2,1209.4 1070.5,1211.5 1070.7,1213.9 1070.8,1216.8 1070.9,1221.5 1070.8,1226.2 1070.7,1229.1 1070.5,1231.5 1070.2,1233.6 1069.8,1235.5 1069.4,1237.3ZM779.2,1397.5 779.2,1348.1 729.8,1397.5Z"/>
<path fill="#5AB4AE" fill-rule="evenodd" d="M950.7,1172.7 948.5,1170.0 946.1,1167.6 943.6,1165.2 941.0,1163.0 938.4,1161.0 935.6,1159.1 932.7,1157.4 929.8,1155.9 926.7,1154.5 923.5,1153.2 920.1,1152.2 916.6,1151.3 912.9,1150.5 909.0,1149.9 908.1,1149.9 810.4,1247.6 810.8,1251.9 812.0,1260.1 813.7,1267.6 815.9,1274.5 818.5,1280.8 821.6,1286.6 825.2,1291.8 829.2,1296.5 830.1,1297.2 873.1,1254.2 873.0,1253.9 872.4,1251.9 871.9,1249.7 871.5,1247.3 871.1,1244.5 870.9,1241.4 870.8,1237.7 870.7,1231.3 870.8,1224.9 870.9,1221.2 871.1,1218.1 871.5,1215.3 871.9,1212.9 872.4,1210.7 873.0,1208.7 873.6,1206.8 874.4,1205.1 875.3,1203.6 876.2,1202.2 877.2,1201.0 878.4,1199.9 879.6,1199.0 880.9,1198.2 882.3,1197.5 883.8,1197.0 885.5,1196.7 887.4,1196.5 890.2,1196.4 892.9,1196.5 894.8,1196.7 896.5,1197.0 898.0,1197.5 899.4,1198.2 900.7,1199.0 901.9,1199.9 903.1,1201.0 904.1,1202.2 905.0,1203.6 905.9,1205.1 906.7,1206.8 907.3,1208.7 907.9,1210.7 908.4,1212.9 908.8,1215.3 909.2,1218.1 909.2,1218.1 952.5,1174.8ZM717.3,1397.5 729.8,1397.5 779.2,1348.1 779.2,1278.8 717.3,1340.7Z"/>
<path fill="#00A69C" fill-rule="evenodd" d="M904.8,1149.5 900.0,1149.3 893.4,1149.2 893.4,1149.2 893.4,1149.2 893.4,1149.2 893.4,1149.2 893.4,1149.2 880.4,1149.5 870.9,1150.5 862.4,1152.0 854.8,1154.2 847.7,1157.0 841.3,1160.4 835.5,1164.3 830.2,1168.9 825.5,1174.0 821.5,1179.7 818.0,1186.0 815.1,1192.8 812.9,1200.3 811.3,1208.5 810.3,1217.8 810.0,1230.4 810.0,1230.4 810.0,1230.5 810.0,1240.7 810.0,1242.6 810.4,1247.6 908.1,1149.9ZM718.9,1165.3 714.9,1168.7 710.9,1171.8 706.8,1174.8 702.7,1177.4 698.7,1179.9 694.5,1182.1 690.4,1184.1 686.2,1185.8 682.0,1187.3 677.8,1188.6 673.6,1189.6 673.6,1245.0 677.1,1244.0 680.6,1243.0 683.9,1241.9 687.3,1240.7 690.5,1239.5 693.8,1238.2 696.9,1236.8 700.0,1235.4 703.0,1233.9 706.0,1232.4 708.9,1230.8 711.8,1229.2 714.6,1227.5 717.3,1225.7 717.3,1340.7 779.2,1278.8 779.2,1153.6 730.8,1153.6 726.8,1157.7 722.9,1161.6ZM583.0,1294.0 583.5,1292.5 584.3,1291.1 585.2,1289.7 586.2,1288.5 587.4,1287.4 588.8,1286.4 590.2,1285.5 591.8,1284.8 593.5,1284.1 595.3,1283.6 597.2,1283.3 599.3,1283.1 601.6,1283.0 605.0,1283.1 607.4,1283.5 609.4,1284.1 611.3,1284.9 613.0,1286.0 614.5,1287.4 615.9,1288.9 617.1,1290.7 618.3,1292.7 619.2,1295.0 620.0,1297.5 620.7,1300.2 621.2,1303.3 621.6,1306.6 621.8,1310.5 621.9,1316.0 621.8,1322.3 621.6,1326.7 621.3,1330.5 620.8,1334.0 620.1,1337.1 619.4,1339.9 618.5,1342.5 617.4,1344.8 616.2,1346.8 614.9,1348.6 613.5,1350.1 611.9,1351.4 610.1,1352.3 608.2,1353.0 605.9,1353.5 602.7,1353.6 600.0,1353.5 597.8,1353.1 595.7,1352.5 593.8,1351.7 592.0,1350.6 590.4,1349.3 588.9,1347.8 587.5,1346.1 586.3,1344.2 585.2,1342.1 584.3,1339.8 583.6,1337.3 583.0,1334.6 582.5,1331.8 582.3,1328.6 582.2,1324.8 521.2,1324.8 521.5,1336.8 522.5,1345.7 524.0,1353.5 526.2,1360.6 529.0,1367.0 532.4,1373.0 536.4,1378.4 540.9,1383.2 546.1,1387.5 551.8,1391.3 558.0,1394.5 564.9,1397.2 572.4,1399.2 580.7,1400.7 590.0,1401.6 602.7,1401.9 615.5,1401.6 624.9,1400.6 633.1,1398.9 640.7,1396.6 647.6,1393.7 653.9,1390.1 659.6,1385.9 664.8,1381.1 669.4,1375.7 673.4,1369.7 676.8,1363.1 679.6,1355.8 681.8,1347.9 683.3,1339.2 684.3,1329.4 684.6,1316.0 684.4,1303.7 683.7,1294.7 682.5,1286.7 680.9,1279.4 678.8,1272.8 676.2,1266.7 673.2,1261.2 669.8,1256.2 666.0,1251.8 661.7,1247.9 657.0,1244.6 651.9,1241.9 646.3,1239.8 640.1,1238.3 633.1,1237.4 623.6,1237.1 620.5,1237.2 617.4,1237.3 614.5,1237.6 611.6,1238.0 608.8,1238.5 606.2,1239.1 603.7,1239.8 601.3,1240.6 599.0,1241.5 596.8,1242.5 594.8,1243.6 593.0,1244.8 591.3,1246.1 589.8,1247.5 588.5,1248.9 587.3,1250.5 586.4,1252.1 585.6,1253.8 591.8,1205.3 671.6,1205.3 671.6,1153.5 546.3,1153.5 529.2,1295.6 582.2,1299.3 582.3,1297.3 582.5,1295.6ZM466.8,1214.1 464.9,1217.0 463.1,1219.9 461.4,1222.8 459.6,1225.8 457.9,1228.7 456.2,1231.7 454.5,1234.7 452.9,1237.7 451.2,1240.7 449.5,1243.7 447.9,1246.7 446.3,1249.8 444.7,1252.8 443.2,1255.9 441.7,1259.0 440.3,1262.1 438.8,1265.2 437.4,1268.3 436.1,1271.5 434.7,1274.6 433.4,1277.8 432.1,1281.0 430.9,1284.2 429.6,1287.4 428.5,1290.6 427.3,1293.8 426.2,1297.1 425.2,1300.3 424.2,1303.6 423.2,1306.9 422.2,1310.2 421.2,1313.4 420.2,1316.7 419.2,1320.0 418.3,1323.3 417.3,1326.6 416.4,1329.9 415.6,1333.2 414.7,1336.6 413.9,1339.9 413.2,1343.2 412.4,1346.6 411.7,1349.9 411.0,1353.3 410.3,1356.6 409.6,1360.0 409.0,1363.4 408.4,1366.8 407.9,1370.1 407.4,1373.5 407.0,1376.9 406.6,1380.3 406.3,1383.8 406.0,1387.2 405.9,1390.6 405.8,1394.0 405.8,1397.5 474.3,1397.5 474.3,1393.9 474.5,1390.4 474.6,1386.8 474.9,1383.3 475.2,1379.7 475.5,1376.2 475.9,1372.6 476.4,1369.1 476.9,1365.6 477.4,1362.0 478.0,1358.5 478.7,1355.0 479.4,1351.5 480.1,1348.0 480.9,1344.6 481.7,1341.1 482.5,1337.6 483.3,1334.2 484.1,1330.7 484.9,1327.2 485.7,1323.7 486.6,1320.3 487.4,1316.8 488.3,1313.4 489.3,1310.0 490.3,1306.6 491.4,1303.2 492.5,1299.8 493.7,1296.4 494.8,1293.0 496.0,1289.7 497.2,1286.3 498.3,1282.9 499.5,1279.6 500.7,1276.2 502.0,1272.9 503.2,1269.6 504.5,1266.2 505.8,1262.9 507.1,1259.6 508.5,1256.3 509.8,1253.0 511.3,1249.8 512.7,1246.5 514.2,1243.3 515.7,1240.0 517.2,1236.8 518.7,1233.6 520.3,1230.4 521.8,1227.2 523.4,1224.0 525.0,1220.8 526.6,1217.6 528.2,1214.4 529.9,1211.3 531.6,1208.1 533.3,1205.0 535.0,1201.9 536.7,1198.8 538.5,1195.7 538.5,1154.2 384.7,1154.2 384.7,1205.6 472.6,1205.6 470.6,1208.4 468.7,1211.2ZM378.2,1401.0 377.9,1402.7 377.6,1404.2 377.1,1405.7 376.6,1407.1 375.9,1408.4 375.1,1409.6 374.3,1410.7 373.3,1411.7 372.2,1412.6 371.1,1413.4 369.8,1414.1 368.4,1414.7 366.9,1415.2 365.4,1415.6 363.7,1415.9 361.9,1416.0 361.9,1435.3 366.1,1435.0 370.1,1434.5 373.9,1433.8 377.4,1432.7 380.7,1431.5 383.8,1430.0 386.7,1428.3 389.3,1426.5 391.6,1424.3 393.8,1422.1 395.7,1419.6 397.3,1416.9 398.7,1414.1 399.8,1411.1 400.7,1407.9 401.4,1404.6 401.8,1401.1 401.9,1397.5 401.9,1360.0 363.4,1360.0 363.4,1397.5 378.4,1397.5 378.3,1399.3ZM264.3,1215.8 264.8,1213.6 265.4,1211.5 266.1,1209.6 267.0,1207.8 268.1,1206.1 269.3,1204.6 270.7,1203.2 272.2,1202.0 273.8,1200.9 275.5,1200.1 277.4,1199.4 279.3,1198.9 281.4,1198.6 283.8,1198.5 286.0,1198.6 287.8,1198.9 289.6,1199.3 291.2,1199.9 292.7,1200.6 294.2,1201.5 295.5,1202.6 296.7,1203.8 297.8,1205.2 298.8,1206.6 299.6,1208.2 300.3,1210.0 300.8,1211.8 301.2,1213.7 301.4,1215.8 301.5,1218.2 301.4,1222.8 301.1,1227.4 300.3,1231.9 299.1,1236.3 297.2,1240.6 294.8,1244.5 292.0,1248.3 288.9,1251.7 285.5,1254.8 281.9,1257.7 278.2,1260.3 274.4,1262.9 270.6,1265.5 266.7,1268.0 263.0,1270.7 259.3,1273.4 255.7,1276.3 252.1,1279.1 248.6,1282.1 245.1,1285.1 241.6,1288.1 238.2,1291.2 234.9,1294.4 231.6,1297.6 228.4,1300.9 225.3,1304.3 222.3,1307.8 219.6,1311.5 217.0,1315.3 214.7,1319.3 212.5,1323.4 210.7,1327.6 209.1,1332.0 207.8,1336.4 206.8,1340.9 206.0,1345.4 205.5,1350.0 205.2,1354.6 205.1,1359.2 205.0,1363.8 205.0,1397.5 360.3,1397.5 360.3,1347.0 270.5,1347.0 271.5,1343.1 272.7,1339.2 274.0,1335.4 275.6,1331.8 277.6,1328.3 279.9,1325.0 282.4,1321.8 285.2,1318.8 288.1,1316.0 291.2,1313.3 294.4,1310.8 297.6,1308.4 300.9,1306.0 304.2,1303.8 307.5,1301.5 310.9,1299.3 314.2,1297.1 317.5,1294.8 320.8,1292.4 324.1,1290.0 327.3,1287.5 330.3,1284.9 333.3,1282.2 336.2,1279.4 339.0,1276.4 341.6,1273.4 344.1,1270.2 346.4,1266.9 348.5,1263.4 350.5,1259.9 352.3,1256.3 353.9,1252.5 355.3,1248.7 356.5,1244.9 357.5,1240.9 358.3,1237.0 358.9,1233.0 359.4,1229.0 359.6,1224.9 359.7,1220.9 359.4,1210.9 358.5,1203.0 356.9,1195.8 354.7,1189.2 351.9,1183.0 348.5,1177.3 344.5,1172.1 340.0,1167.4 334.9,1163.1 329.3,1159.5 323.2,1156.3 316.5,1153.7 309.4,1151.6 301.6,1150.2 293.1,1149.3 282.4,1149.0 271.9,1149.3 263.6,1150.2 256.1,1151.7 249.1,1153.8 242.6,1156.5 236.7,1159.7 231.2,1163.5 226.3,1167.8 221.8,1172.7 218.0,1178.0 214.7,1183.8 211.9,1190.2 209.8,1197.0 208.2,1204.4 207.3,1212.5 207.0,1222.7 206.8,1230.5 263.8,1230.5 264.0,1220.9 264.1,1218.2ZM204.4,1206.1 204.0,1204.0 203.4,1201.9 202.8,1199.8 202.1,1197.8 201.2,1195.7 200.3,1193.8 199.3,1191.8 198.2,1189.9 197.0,1188.1 195.8,1186.3 194.5,1184.6 193.0,1182.9 191.6,1181.3 190.0,1179.8 188.4,1178.4 186.7,1176.9 185.0,1175.6 183.3,1174.3 181.4,1173.1 179.6,1171.9 177.7,1170.8 175.8,1169.8 173.8,1168.8 171.9,1167.9 169.8,1167.1 167.8,1166.4 165.7,1165.7 163.6,1165.1 161.5,1164.6 159.4,1164.2 157.3,1163.8 155.1,1163.5 153.1,1163.3 153.1,1147.4 142.2,1147.4 142.2,1163.2 142.1,1163.2 139.9,1163.3 137.7,1163.5 135.6,1163.8 133.4,1164.1 131.3,1164.5 129.2,1165.0 127.1,1165.6 125.0,1166.2 122.9,1166.8 120.9,1167.6 118.9,1168.4 116.9,1169.4 114.9,1170.4 113.1,1171.4 111.2,1172.6 109.4,1173.9 107.7,1175.2 106.0,1176.6 104.4,1178.1 102.9,1179.6 101.4,1181.3 100.0,1182.9 98.8,1184.7 97.5,1186.5 96.4,1188.4 95.4,1190.3 94.4,1192.3 93.5,1194.3 92.8,1196.3 92.1,1198.3 91.5,1200.4 90.9,1202.5 90.5,1204.7 90.1,1206.8 89.8,1209.0 89.6,1211.1 89.4,1213.3 89.3,1215.5 89.3,1217.7 89.4,1219.9 89.5,1222.1 89.8,1224.3 90.1,1226.4 90.6,1228.5 91.2,1230.6 91.9,1232.7 92.8,1234.7 93.8,1236.6 94.9,1238.5 96.1,1240.3 97.4,1242.1 98.8,1243.8 100.3,1245.4 101.9,1246.9 103.6,1248.3 105.3,1249.7 107.0,1250.9 108.9,1252.1 110.7,1253.2 112.6,1254.3 114.6,1255.3 116.6,1256.2 118.6,1257.1 120.6,1257.9 122.6,1258.7 124.7,1259.4 126.7,1260.1 128.8,1260.8 130.9,1261.4 132.9,1262.0 135.0,1262.6 137.1,1263.2 139.2,1263.8 141.3,1264.4 142.2,1264.7 142.2,1298.0 141.5,1297.9 139.4,1297.2 137.4,1296.3 135.5,1295.3 133.8,1294.0 132.3,1292.4 130.9,1290.7 129.8,1288.8 128.9,1286.8 128.2,1284.7 127.8,1282.6 127.5,1280.4 127.4,1278.2 127.3,1276.1 85.3,1276.1 85.4,1278.2 85.5,1280.4 85.7,1282.6 86.0,1284.8 86.4,1286.9 86.9,1289.1 87.4,1291.2 88.1,1293.3 88.8,1295.4 89.6,1297.4 90.5,1299.4 91.5,1301.4 92.5,1303.3 93.6,1305.2 94.8,1307.1 96.1,1308.9 97.5,1310.6 98.9,1312.3 100.4,1313.9 101.9,1315.5 103.5,1317.0 105.2,1318.4 106.9,1319.8 108.7,1321.1 110.5,1322.3 112.4,1323.5 114.3,1324.5 116.3,1325.5 118.3,1326.5 120.3,1327.3 122.4,1328.1 124.4,1328.8 126.5,1329.4 128.7,1330.0 130.8,1330.5 133.0,1330.9 135.1,1331.3 137.3,1331.6 139.5,1331.9 141.6,1332.1 142.2,1332.2 142.2,1348.6 153.1,1348.6 153.1,1332.4 154.8,1332.3 156.9,1332.2 159.1,1331.9 161.3,1331.6 163.4,1331.2 165.6,1330.8 167.7,1330.2 169.8,1329.6 171.9,1328.9 174.0,1328.2 176.0,1327.4 178.0,1326.5 180.0,1325.5 181.9,1324.5 183.8,1323.3 185.6,1322.1 187.4,1320.9 189.2,1319.6 190.9,1318.2 192.5,1316.7 194.1,1315.2 195.6,1313.6 197.0,1311.9 198.4,1310.2 199.7,1308.5 200.9,1306.6 202.1,1304.8 203.2,1302.9 204.1,1300.9 205.0,1298.9 205.8,1296.8 206.5,1294.8 207.1,1292.6 207.7,1290.5 208.1,1288.3 208.3,1286.1 208.5,1284.0 208.5,1281.8 208.4,1279.6 208.2,1277.4 207.8,1275.3 207.3,1273.1 206.8,1271.0 206.2,1268.9 205.6,1266.8 204.9,1264.7 204.1,1262.6 203.3,1260.6 202.3,1258.6 201.3,1256.7 200.3,1254.8 199.1,1252.9 197.9,1251.1 196.6,1249.3 195.2,1247.6 193.7,1246.0 192.1,1244.4 190.5,1242.9 188.9,1241.4 187.1,1240.1 185.3,1238.9 183.5,1237.7 181.6,1236.6 179.6,1235.6 177.6,1234.7 175.6,1233.9 173.6,1233.1 171.5,1232.4 169.4,1231.7 167.3,1231.0 165.2,1230.3 163.1,1229.7 161.0,1229.1 158.9,1228.5 156.8,1228.1 154.6,1227.7 153.1,1227.5 153.1,1196.9 153.2,1196.9 155.2,1197.7 157.1,1198.8 158.8,1200.3 160.2,1202.1 161.3,1204.0 162.1,1206.0 162.7,1208.1 162.9,1210.3 163.0,1212.5 163.0,1214.7 163.0,1216.9 205.4,1216.9 205.4,1214.7 205.3,1212.6 205.1,1210.4 204.8,1208.3ZM160.7,1273.7 162.1,1275.4 163.3,1277.2 164.2,1279.2 164.9,1281.3 165.2,1283.5 165.3,1285.7 165.0,1287.9 164.3,1290.0 163.3,1291.9 162.0,1293.7 160.4,1295.2 158.6,1296.6 156.6,1297.6 154.5,1298.4 153.1,1298.8 153.1,1268.5 153.6,1268.7 155.5,1269.7 157.4,1270.9 159.1,1272.2ZM135.1,1219.9 133.9,1218.0 133.0,1216.0 132.3,1213.8 132.0,1211.7 131.9,1209.5 132.1,1207.3 132.7,1205.1 133.6,1203.0 134.8,1201.2 136.3,1199.6 138.2,1198.4 140.2,1197.5 142.2,1196.9 142.2,1226.0 141.7,1225.8 139.8,1224.7 138.0,1223.4 136.5,1221.8Z"/>
<text y="514.1" font-size="28.5" fill="#0A3456" class="halo"><tspan x="361.1" font-weight="700" textLength="101.8" lengthAdjust="spacingAndGlyphs">Closed</tspan> <tspan x="468.6" font-weight="700" textLength="86.9" lengthAdjust="spacingAndGlyphs">Cases</tspan></text>
<text y="810.4" font-size="28.5" fill="#0A3456" class="halo"><tspan x="279.2" font-weight="700" textLength="137.7" lengthAdjust="spacingAndGlyphs">Requests</tspan> <tspan x="426.3" font-weight="700" textLength="36.7" lengthAdjust="spacingAndGlyphs">for</tspan> <tspan x="473.8" font-weight="700" textLength="82.0" lengthAdjust="spacingAndGlyphs">Legal</tspan> <tspan x="562.8" font-weight="700" textLength="158.0" lengthAdjust="spacingAndGlyphs">Assistance</tspan></text>
<text y="1106.3" font-size="28.5" fill="#0A3456" class="halo"><tspan x="535.7" font-weight="700" textLength="116.3" lengthAdjust="spacingAndGlyphs">Persons</tspan> <tspan x="659.9" font-weight="700" textLength="106.8" lengthAdjust="spacingAndGlyphs">Helped</tspan></text>
<text y="1397.4" font-size="28.5" fill="#0A3456" class="halo"><tspan x="783.2" font-weight="700" textLength="75.7" lengthAdjust="spacingAndGlyphs">Total</tspan> <tspan x="865.0" font-weight="700" textLength="137.2" lengthAdjust="spacingAndGlyphs">Monetary</tspan> <tspan x="1011.7" font-weight="700" textLength="107.4" lengthAdjust="spacingAndGlyphs">Awards</tspan> <tspan x="1129.6" font-weight="700" textLength="38.8" lengthAdjust="spacingAndGlyphs">for</tspan> <tspan x="1178.8" font-weight="700" textLength="100.9" lengthAdjust="spacingAndGlyphs">Clients</tspan> <tspan x="1280.4" font-weight="700" textLength="11.5" lengthAdjust="spacingAndGlyphs">*</tspan></text>
<text y="792.2" font-size="35" fill="#0A3456"><tspan x="871.4" font-weight="700" font-size="39.5" textLength="115.2" lengthAdjust="spacingAndGlyphs">These</tspan> <tspan x="995.1" font-weight="700" font-size="39.5" textLength="173.8" lengthAdjust="spacingAndGlyphs">numbers</tspan> <tspan x="1176.8" stroke="#fff" stroke-width="0.25" textLength="44.3" lengthAdjust="spacingAndGlyphs">do</tspan> <tspan x="1229.3" stroke="#fff" stroke-width="0.25" textLength="54.4" lengthAdjust="spacingAndGlyphs">not</tspan> <tspan x="1293.4" stroke="#fff" stroke-width="0.25" textLength="121.9" lengthAdjust="spacingAndGlyphs">include</tspan> <tspan x="1425.2" stroke="#fff" stroke-width="0.25" textLength="52.3" lengthAdjust="spacingAndGlyphs">the</tspan> <tspan x="1486.4" stroke="#fff" stroke-width="0.25" textLength="167.5" lengthAdjust="spacingAndGlyphs">additional</tspan></text>
<text y="834.9" font-size="35" fill="#0A3456"><tspan x="872.3" font-weight="700" font-size="39.5" textLength="177.0" lengthAdjust="spacingAndGlyphs">thousands</tspan> <tspan x="1057.5" stroke="#fff" stroke-width="0.25" textLength="33.0" lengthAdjust="spacingAndGlyphs">of</tspan> <tspan x="1099.9" stroke="#fff" stroke-width="0.25" textLength="116.9" lengthAdjust="spacingAndGlyphs">people</tspan> <tspan x="1227.0" stroke="#fff" stroke-width="0.25" textLength="69.0" lengthAdjust="spacingAndGlyphs">who</tspan> <tspan x="1304.6" stroke="#fff" stroke-width="0.25" textLength="80.3" lengthAdjust="spacingAndGlyphs">have</tspan> <tspan x="1391.2" stroke="#fff" stroke-width="0.25" textLength="162.9" lengthAdjust="spacingAndGlyphs">benefited</tspan> <tspan x="1563.2" stroke="#fff" stroke-width="0.25" textLength="79.0" lengthAdjust="spacingAndGlyphs">from</tspan> <tspan x="1649.4" stroke="#fff" stroke-width="0.25" textLength="152.5" lengthAdjust="spacingAndGlyphs">materials</tspan></text>
<text y="877.6" font-size="35" fill="#0A3456"><tspan x="870.2" stroke="#fff" stroke-width="0.25" textLength="64.7" lengthAdjust="spacingAndGlyphs">and</tspan> <tspan x="941.8" stroke="#fff" stroke-width="0.25" textLength="194.2" lengthAdjust="spacingAndGlyphs">information</tspan> <tspan x="1143.9" stroke="#fff" stroke-width="0.25" textLength="43.5" lengthAdjust="spacingAndGlyphs">on</tspan> <tspan x="1195.4" stroke="#fff" stroke-width="0.25" textLength="54.9" lengthAdjust="spacingAndGlyphs">our</tspan> <tspan x="1262.8" stroke="#fff" stroke-width="0.25" textLength="136.3" lengthAdjust="spacingAndGlyphs">website;</tspan> <tspan x="1405.4" stroke="#fff" stroke-width="0.25" textLength="58.6" lengthAdjust="spacingAndGlyphs">pro</tspan> <tspan x="1471.9" stroke="#fff" stroke-width="0.25" textLength="88.5" lengthAdjust="spacingAndGlyphs">bono</tspan> <tspan x="1568.9" stroke="#fff" stroke-width="0.25" textLength="79.5" lengthAdjust="spacingAndGlyphs">legal</tspan> <tspan x="1656.5" stroke="#fff" stroke-width="0.25" textLength="172.6" lengthAdjust="spacingAndGlyphs">assistance</tspan></text>
<text y="920.3" font-size="35" fill="#0A3456"><tspan x="870.3" stroke="#fff" stroke-width="0.25" textLength="112.4" lengthAdjust="spacingAndGlyphs">clinics;</tspan> <tspan x="990.1" stroke="#fff" stroke-width="0.25" textLength="188.9" lengthAdjust="spacingAndGlyphs">attendance</tspan> <tspan x="1187.6" stroke="#fff" stroke-width="0.25" textLength="31.3" lengthAdjust="spacingAndGlyphs">at</tspan> <tspan x="1229.7" stroke="#fff" stroke-width="0.25" textLength="187.7" lengthAdjust="spacingAndGlyphs">community</tspan> <tspan x="1427.5" stroke="#fff" stroke-width="0.25" textLength="81.2" lengthAdjust="spacingAndGlyphs">legal</tspan> <tspan x="1516.8" stroke="#fff" stroke-width="0.25" textLength="167.8" lengthAdjust="spacingAndGlyphs">education</tspan></text>
<text y="963.0" font-size="35" fill="#0A3456"><tspan x="870.2" stroke="#fff" stroke-width="0.25" textLength="227.4" lengthAdjust="spacingAndGlyphs">presentations</tspan> <tspan x="1105.9" stroke="#fff" stroke-width="0.25" textLength="64.7" lengthAdjust="spacingAndGlyphs">and</tspan> <tspan x="1179.5" stroke="#fff" stroke-width="0.25" textLength="152.0" lengthAdjust="spacingAndGlyphs">trainings;</tspan> <tspan x="1339.9" stroke="#fff" stroke-width="0.25" textLength="177.8" lengthAdjust="spacingAndGlyphs">continuing</tspan> <tspan x="1525.0" stroke="#fff" stroke-width="0.25" textLength="80.4" lengthAdjust="spacingAndGlyphs">legal</tspan> <tspan x="1613.4" stroke="#fff" stroke-width="0.25" textLength="168.5" lengthAdjust="spacingAndGlyphs">education</tspan></text>
<text y="1005.7" font-size="35" fill="#0A3456"><tspan x="870.2" stroke="#fff" stroke-width="0.25" textLength="227.4" lengthAdjust="spacingAndGlyphs">presentations</tspan> <tspan x="1107.5" stroke="#fff" stroke-width="0.25" textLength="45.7" lengthAdjust="spacingAndGlyphs">for</tspan> <tspan x="1161.9" stroke="#fff" stroke-width="0.25" textLength="137.9" lengthAdjust="spacingAndGlyphs">lawyers;</tspan> <tspan x="1307.0" stroke="#fff" stroke-width="0.25" textLength="64.7" lengthAdjust="spacingAndGlyphs">and</tspan> <tspan x="1379.4" stroke="#fff" stroke-width="0.25" textLength="148.0" lengthAdjust="spacingAndGlyphs">outreach</tspan> <tspan x="1536.8" stroke="#fff" stroke-width="0.25" textLength="83.4" lengthAdjust="spacingAndGlyphs">visits</tspan> <tspan x="1630.7" stroke="#fff" stroke-width="0.25" textLength="33.4" lengthAdjust="spacingAndGlyphs">to</tspan> <tspan x="1671.9" stroke="#fff" stroke-width="0.25" textLength="158.2" lengthAdjust="spacingAndGlyphs">homeless</tspan></text>
<text y="1048.4" font-size="35" fill="#0A3456"><tspan x="870.2" stroke="#fff" stroke-width="0.25" textLength="64.7" lengthAdjust="spacingAndGlyphs">and</tspan> <tspan x="942.9" stroke="#fff" stroke-width="0.25" textLength="153.0" lengthAdjust="spacingAndGlyphs">domestic</tspan> <tspan x="1107.3" stroke="#fff" stroke-width="0.25" textLength="137.4" lengthAdjust="spacingAndGlyphs">violence</tspan> <tspan x="1254.1" stroke="#fff" stroke-width="0.25" textLength="139.4" lengthAdjust="spacingAndGlyphs">shelters,</tspan> <tspan x="1401.4" stroke="#fff" stroke-width="0.25" textLength="99.6" lengthAdjust="spacingAndGlyphs">senior</tspan> <tspan x="1511.0" stroke="#fff" stroke-width="0.25" textLength="133.8" lengthAdjust="spacingAndGlyphs">centers,</tspan> <tspan x="1651.8" stroke="#fff" stroke-width="0.25" textLength="104.5" lengthAdjust="spacingAndGlyphs">health</tspan></text>
<text y="1091.1" font-size="35" fill="#0A3456"><tspan x="870.3" stroke="#fff" stroke-width="0.25" textLength="112.4" lengthAdjust="spacingAndGlyphs">clinics,</tspan> <tspan x="989.7" stroke="#fff" stroke-width="0.25" textLength="124.4" lengthAdjust="spacingAndGlyphs">nursing</tspan> <tspan x="1121.8" stroke="#fff" stroke-width="0.25" textLength="122.7" lengthAdjust="spacingAndGlyphs">homes,</tspan> <tspan x="1252.3" stroke="#fff" stroke-width="0.25" textLength="64.6" lengthAdjust="spacingAndGlyphs">and</tspan> <tspan x="1324.4" stroke="#fff" stroke-width="0.25" textLength="130.1" lengthAdjust="spacingAndGlyphs">migrant</tspan> <tspan x="1463.8" stroke="#fff" stroke-width="0.25" textLength="84.7" lengthAdjust="spacingAndGlyphs">labor</tspan> <tspan x="1558.5" stroke="#fff" stroke-width="0.25" textLength="122.0" lengthAdjust="spacingAndGlyphs">camps.</tspan></text>
<text x="1400.3" y="1340.3" font-size="15" fill="#3B6486">*</text>
<text x="1407.5" y="1340.3" font-size="17" fill="#3B6486" textLength="468.5" lengthAdjust="spacingAndGlyphs">Obtained benefits and awards in areas of child support,</text>
<text y="1360.8" font-size="17" fill="#3B6486"><tspan x="1410.5" textLength="72.5" lengthAdjust="spacingAndGlyphs">spousal</tspan> <tspan x="1494.0" textLength="75.6" lengthAdjust="spacingAndGlyphs">support,</tspan> <tspan x="1583.9" textLength="140.8" lengthAdjust="spacingAndGlyphs">unemployment</tspan> <tspan x="1736.6" textLength="139.6" lengthAdjust="spacingAndGlyphs">compensation,</tspan></text>
<text x="1410.5" y="1381.2" font-size="17" fill="#3B6486" textLength="463.8" lengthAdjust="spacingAndGlyphs">supplemental security income, debt write-off, disability</text>
<text x="1410.4" y="1401.5" font-size="17" fill="#3B6486" textLength="318.8" lengthAdjust="spacingAndGlyphs">assistance, food stamps, and damages.</text>
<rect x="20" y="1396.5" width="44" height="90" fill="#00A69C"/>
<text x="33.4" y="1429.4" font-size="29" font-weight="700" fill="#fff" textLength="18.0" lengthAdjust="spacingAndGlyphs">7</text>
</svg></body></html>
